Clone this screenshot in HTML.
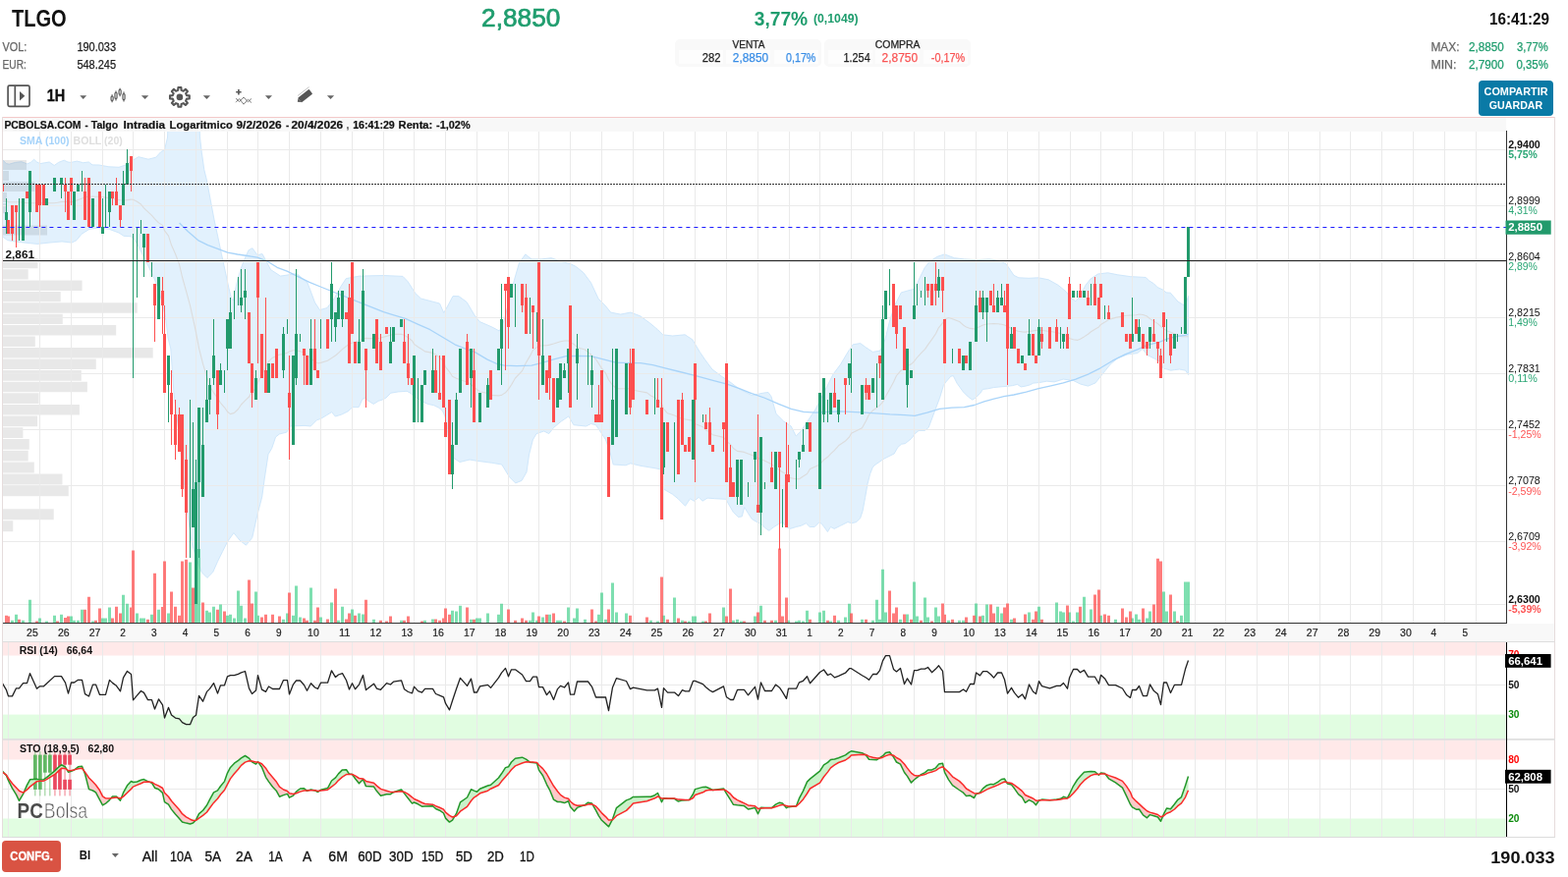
<!DOCTYPE html>
<html lang="es"><head><meta charset="utf-8"><title>TLGO - PCBolsa</title>
<style>
html,body{margin:0;padding:0;background:#fff;}
body{position:relative;width:1596px;height:893px;overflow:hidden;font-family:"Liberation Sans", Arial, sans-serif;}
.ov{position:absolute;left:0;top:0;display:block;}
.box{position:absolute;background:#f9f9f9;border-radius:5px;}
.cell{position:absolute;background:#fdfdfd;}
.btn{position:absolute;border-radius:4px;}
.share{background:#0a7aa6;}
.confg{background:#d9534f;background:#d95343;}
text{white-space:pre;}
</style></head>
<body>
<div id="header">
<div class="box" style="left:687px;top:40px;width:149px;height:28px"></div>
<div class="cell" style="left:691px;top:51px;width:45px;height:14px"></div>
<div class="cell" style="left:739px;top:51px;width:45px;height:14px"></div>
<div class="cell" style="left:788px;top:51px;width:45px;height:14px"></div>
<div class="box" style="left:839px;top:40px;width:149px;height:28px"></div>
<div class="cell" style="left:843px;top:51px;width:45px;height:14px"></div>
<div class="cell" style="left:891px;top:51px;width:45px;height:14px"></div>
<div class="cell" style="left:940px;top:51px;width:45px;height:14px"></div>
<div class="btn share" style="left:1505px;top:82px;width:76px;height:36px"></div>
<svg class="ov" width="1596" height="119" viewBox="0 0 1596 119">
<text x="11.9" y="26.6" font-family='"Liberation Sans", Arial, sans-serif' font-size="23.3" font-weight="bold" fill="#111" textLength="55.8" lengthAdjust="spacingAndGlyphs">TLGO</text>
<text x="2.5" y="51.7" font-family='"Liberation Sans", Arial, sans-serif' font-size="12" font-weight="normal" fill="#666" textLength="24.8" lengthAdjust="spacingAndGlyphs" stroke="#666" stroke-width="0.25">VOL:</text>
<text x="78.4" y="51.7" font-family='"Liberation Sans", Arial, sans-serif' font-size="12" font-weight="normal" fill="#222" textLength="39.7" lengthAdjust="spacingAndGlyphs" stroke="#222" stroke-width="0.25">190.033</text>
<text x="2.5" y="69.6" font-family='"Liberation Sans", Arial, sans-serif' font-size="12" font-weight="normal" fill="#666" textLength="24.3" lengthAdjust="spacingAndGlyphs" stroke="#666" stroke-width="0.25">EUR:</text>
<text x="78.4" y="69.6" font-family='"Liberation Sans", Arial, sans-serif' font-size="12" font-weight="normal" fill="#222" textLength="39.7" lengthAdjust="spacingAndGlyphs" stroke="#222" stroke-width="0.25">548.245</text>
<text x="490.1" y="26.9" font-family='"Liberation Sans", Arial, sans-serif' font-size="25.3" font-weight="normal" fill="#1f9d6e" textLength="80.2" lengthAdjust="spacingAndGlyphs" stroke="#1f9d6e" stroke-width="0.7">2,8850</text>
<text x="767.7" y="25.7" font-family='"Liberation Sans", Arial, sans-serif' font-size="20" font-weight="bold" fill="#1f9d6e" textLength="54.5" lengthAdjust="spacingAndGlyphs">3,77%</text>
<text x="827.9" y="23.2" font-family='"Liberation Sans", Arial, sans-serif' font-size="12.5" font-weight="bold" fill="#1f9d6e" textLength="45.8" lengthAdjust="spacingAndGlyphs">(0,1049)</text>
<text x="1516.0" y="24.9" font-family='"Liberation Sans", Arial, sans-serif' font-size="17" font-weight="bold" fill="#111" textLength="61.1" lengthAdjust="spacingAndGlyphs">16:41:29</text>
<text x="1456.4" y="51.7" font-family='"Liberation Sans", Arial, sans-serif' font-size="12" font-weight="normal" fill="#666" textLength="29.1" lengthAdjust="spacingAndGlyphs" stroke="#666" stroke-width="0.25">MAX:</text>
<text x="1495.1" y="51.7" font-family='"Liberation Sans", Arial, sans-serif' font-size="12" font-weight="normal" fill="#1f9d6e" textLength="35.7" lengthAdjust="spacingAndGlyphs" stroke="#1f9d6e" stroke-width="0.25">2,8850</text>
<text x="1543.9" y="51.7" font-family='"Liberation Sans", Arial, sans-serif' font-size="12" font-weight="normal" fill="#1f9d6e" textLength="31.9" lengthAdjust="spacingAndGlyphs" stroke="#1f9d6e" stroke-width="0.25">3,77%</text>
<text x="1456.4" y="69.9" font-family='"Liberation Sans", Arial, sans-serif' font-size="12" font-weight="normal" fill="#666" textLength="26.1" lengthAdjust="spacingAndGlyphs" stroke="#666" stroke-width="0.25">MIN:</text>
<text x="1495.1" y="69.9" font-family='"Liberation Sans", Arial, sans-serif' font-size="12" font-weight="normal" fill="#1f9d6e" textLength="35.7" lengthAdjust="spacingAndGlyphs" stroke="#1f9d6e" stroke-width="0.25">2,7900</text>
<text x="1543.4" y="69.9" font-family='"Liberation Sans", Arial, sans-serif' font-size="12" font-weight="normal" fill="#1f9d6e" textLength="32.4" lengthAdjust="spacingAndGlyphs" stroke="#1f9d6e" stroke-width="0.25">0,35%</text>
<text x="745.4" y="48.6" font-family='"Liberation Sans", Arial, sans-serif' font-size="10.5" font-weight="normal" fill="#222" textLength="33.0" lengthAdjust="spacingAndGlyphs" stroke="#222" stroke-width="0.25">VENTA</text>
<text x="714.8" y="62.7" font-family='"Liberation Sans", Arial, sans-serif' font-size="12" font-weight="normal" fill="#222" textLength="18.8" lengthAdjust="spacingAndGlyphs" stroke="#222" stroke-width="0.25">282</text>
<text x="745.8" y="62.7" font-family='"Liberation Sans", Arial, sans-serif' font-size="12" font-weight="normal" fill="#3a8ee6" textLength="36.3" lengthAdjust="spacingAndGlyphs" stroke="#3a8ee6" stroke-width="0.25">2,8850</text>
<text x="800.0" y="62.7" font-family='"Liberation Sans", Arial, sans-serif' font-size="12" font-weight="normal" fill="#3a8ee6" textLength="30.4" lengthAdjust="spacingAndGlyphs" stroke="#3a8ee6" stroke-width="0.25">0,17%</text>
<text x="890.8" y="48.6" font-family='"Liberation Sans", Arial, sans-serif' font-size="10.5" font-weight="normal" fill="#222" textLength="45.7" lengthAdjust="spacingAndGlyphs" stroke="#222" stroke-width="0.25">COMPRA</text>
<text x="858.5" y="62.7" font-family='"Liberation Sans", Arial, sans-serif' font-size="12" font-weight="normal" fill="#222" textLength="27.2" lengthAdjust="spacingAndGlyphs" stroke="#222" stroke-width="0.25">1.254</text>
<text x="897.6" y="62.7" font-family='"Liberation Sans", Arial, sans-serif' font-size="12" font-weight="normal" fill="#f95555" textLength="36.4" lengthAdjust="spacingAndGlyphs" stroke="#f95555" stroke-width="0.25">2,8750</text>
<text x="947.8" y="62.7" font-family='"Liberation Sans", Arial, sans-serif' font-size="12" font-weight="normal" fill="#f95555" textLength="34.4" lengthAdjust="spacingAndGlyphs" stroke="#f95555" stroke-width="0.25">-0,17%</text>
<text x="1510.6" y="96.8" font-family='"Liberation Sans", Arial, sans-serif' font-size="10.5" font-weight="bold" fill="#fff" textLength="64.9" lengthAdjust="spacingAndGlyphs">COMPARTIR</text>
<text x="1515.8" y="110.5" font-family='"Liberation Sans", Arial, sans-serif' font-size="10.5" font-weight="bold" fill="#fff" textLength="54.4" lengthAdjust="spacingAndGlyphs">GUARDAR</text>
<text x="47.8" y="102.5" font-family='"Liberation Sans", Arial, sans-serif' font-size="15.8" font-weight="bold" fill="#111" textLength="18.4" lengthAdjust="spacingAndGlyphs" stroke="#111" stroke-width="0.4">1H</text>
<path d="M81.3 97.2H88.1L84.7 100.9Z" fill="#666"/>
<path d="M143.9 97.2H151.2L147.6 100.9Z" fill="#666"/>
<path d="M206.8 97.2H214.0L210.4 100.9Z" fill="#666"/>
<path d="M269.9 97.2H277.0L273.4 100.9Z" fill="#666"/>
<path d="M332.9 97.2H340.1L336.5 100.9Z" fill="#666"/>
<rect x="8.1" y="87.2" width="21.9" height="21.2" rx="1.6" fill="none" stroke="#555" stroke-width="1.7"/>
<path d="M15.3 87.2V108.4" stroke="#555" stroke-width="1.7" fill="none"/>
<path d="M20.0 93.0L25.3 97.8L20.0 102.6Z" fill="#555"/>
<path d="M114.1 96.3V98.0M114.1 102.4V104.2" stroke="#555" stroke-width="1.1" fill="none"/><rect x="113.05" y="98.0" width="2.1" height="4.400000000000006" rx="1" ry="1" fill="none" stroke="#555" stroke-width="1.15"/>
<path d="M118.0 92.6V94.2M118.0 100.4V102.4" stroke="#555" stroke-width="1.1" fill="none"/><rect x="116.95" y="94.2" width="2.1" height="6.200000000000003" rx="1" ry="1" fill="none" stroke="#555" stroke-width="1.15"/>
<path d="M122.1 89.8V91.2M122.1 96.2V98.2" stroke="#555" stroke-width="1.1" fill="none"/><rect x="121.05" y="91.2" width="2.1" height="5.0" rx="1" ry="1" fill="none" stroke="#555" stroke-width="1.15"/>
<path d="M126.0 93.6V95.6M126.0 101.6V103.4" stroke="#555" stroke-width="1.1" fill="none"/><rect x="124.95" y="95.6" width="2.1" height="6.0" rx="1" ry="1" fill="none" stroke="#555" stroke-width="1.15"/>
<path d="M181.20 91.80L181.41 89.01L184.39 89.01L184.60 91.80L186.71 92.68L188.84 90.86L190.94 92.96L189.12 95.09L190.00 97.20L192.79 97.41L192.79 100.39L190.00 100.60L189.12 102.71L190.94 104.84L188.84 106.94L186.71 105.12L184.60 106.00L184.39 108.79L181.41 108.79L181.20 106.00L179.09 105.12L176.96 106.94L174.86 104.84L176.68 102.71L175.80 100.60L173.01 100.39L173.01 97.41L175.80 97.20L176.68 95.09L174.86 92.96L176.96 90.86L179.09 92.68Z" fill="#fff" stroke="#555" stroke-width="2.1" stroke-linejoin="round"/><circle cx="182.9" cy="98.9" r="3.3" fill="#555"/>
<path d="M242.9 91V96.4M240.2 93.7H245.6" stroke="#555" stroke-width="1.6" fill="none"/>
<path d="M240 100.2L243.6 103.6L248 99L252.4 103.8L256 100.4" stroke="#555" stroke-width="0.75" fill="none"/>
<path d="M240 104.2L243.6 100.6L248 106.2L252.4 101.2L256 104.6" stroke="#555" stroke-width="0.75" fill="none"/>
<g transform="rotate(-38 311.5 97)"><rect x="303.2" y="94" width="14.5" height="6" rx="0.8" fill="#555"/><path d="M303.2 94.5L300.5 97L303.2 99.5Z" fill="#555"/><path d="M304.5 92.2H319" stroke="#bbb" stroke-width="0.8"/></g>
</svg>
</div>
<svg id="chart" class="ov" style="top:0" width="1596" height="855" viewBox="0 0 1596 855">
<rect x="2" y="119" width="1581" height="734" fill="#fff"/>
<rect x="3" y="120" width="1530" height="14" fill="#f8f8f8"/>
<rect x="3" y="635" width="1580" height="18" fill="#f8f8f8"/>
<rect x="3" y="654" width="1530" height="13.5" fill="#ffe9e9"/>
<rect x="3" y="727.6" width="1530" height="24.9" fill="#e1fde1"/>
<rect x="3" y="753" width="1530" height="20.5" fill="#ffe9e9"/>
<rect x="3" y="833.5" width="1530" height="18.5" fill="#e1fde1"/>
<defs><clipPath id="plotclip"><rect x="3" y="134" width="1530" height="500"/></clipPath><clipPath id="rsiclip"><rect x="3" y="654" width="1530" height="98"/></clipPath><clipPath id="stoclip"><rect x="3" y="753" width="1530" height="99"/></clipPath></defs>
<g clip-path="url(#plotclip)">
<path d="M2.5 163.0L3.1 163.2L6.3 166.6L9.4 167.2L15.7 165.4L21.9 164.7L27.6 166.9L31.3 165.4L34.5 162.2L37.6 165.0L40.8 166.6L50.2 165.0L55.2 168.5L59.6 165.4L65.2 163.2L69.0 165.0L72.1 165.4L78.4 164.1L84.6 165.7L90.3 165.0L94.0 167.9L100.8 168.0L110.8 169.8L121.0 170.3L128.5 167.8L136.0 162.7L141.0 159.7L151.0 162.2L158.7 160.2L163.7 154.7L167.5 152.7L170.5 140.0L171.3 120.0L202.8 120.0L203.5 140.0L205.3 155.2L207.8 172.8L210.3 182.9L214.1 203.0L217.9 223.2L221.7 240.8L225.4 258.5L229.2 276.1L233.0 293.7L235.5 303.8L237.5 306.0L241.0 288.0L245.0 274.0L248.6 264.5L253.1 254.7L256.9 252.7L262.0 259.7L267.0 258.5L271.0 266.0L275.5 274.6L285.5 281.1L302.0 278.6L313.0 288.0L320.5 308.0L325.5 315.6L333.0 313.5L340.5 303.5L347.3 291.2L352.3 283.6L366.0 281.1L390.4 280.5L410.0 281.4L415.0 286.6L422.7 298.5L428.5 304.0L447.5 309.0L451.7 318.5L455.5 312.0L461.0 301.5L467.0 301.7L475.0 307.5L483.0 321.0L488.2 327.5L500.8 333.0L508.3 337.0L513.4 325.6L518.4 305.5L523.4 285.3L528.5 267.7L534.8 258.9L541.0 263.9L551.1 263.9L561.2 262.7L571.3 266.4L581.4 269.0L586.4 271.5L594.0 277.8L601.5 287.9L609.1 304.2L616.6 311.8L621.7 318.1L631.7 320.1L641.8 318.1L651.9 321.9L662.0 329.4L669.5 335.7L674.6 340.8L684.6 342.0L697.2 340.8L704.8 345.8L712.3 358.4L717.4 365.9L724.9 376.0L735.0 383.6L742.6 388.6L752.6 396.2L765.2 402.5L777.8 400.0L782.0 399.5L785.0 403.7L790.0 421.4L797.6 428.9L805.2 434.0L810.2 444.0L815.3 439.0L820.3 431.4L830.4 416.3L837.9 401.2L843.0 391.1L848.0 381.1L855.6 371.0L863.1 358.4L868.2 350.8L875.7 349.6L880.8 353.4L888.3 358.4L895.9 357.1L900.9 345.8L905.9 325.6L911.0 310.5L917.3 297.9L926.1 295.4L931.1 294.2L936.2 282.8L941.2 272.7L946.2 266.4L953.8 261.4L961.4 258.9L971.4 262.7L981.5 263.9L994.1 264.7L1006.7 263.9L1016.8 265.2L1024.3 269.0L1031.9 280.3L1036.9 282.8L1047.0 283.3L1057.1 282.8L1067.2 284.8L1077.2 290.4L1084.8 296.7L1089.8 303.0L1094.9 306.8L1099.9 300.5L1104.9 290.4L1110.0 284.1L1117.5 279.0L1127.6 277.8L1137.7 279.8L1150.3 281.6L1162.9 282.3L1166.3 282.5L1169.4 285.7L1174.4 288.8L1178.2 292.6L1183.8 295.1L1187.0 297.9L1191.3 298.2L1195.1 302.6L1198.9 307.0L1203.9 310.1L1206.5 311.0L1209.5 301.5L1209.5 381.6L1206.7 377.2L1200.5 376.0L1195.5 376.6L1191.7 377.2L1188.0 376.0L1184.2 375.3L1180.4 367.8L1175.4 365.3L1167.9 361.5L1162.9 355.2L1157.8 359.6L1147.8 360.9L1137.7 364.7L1130.1 371.0L1125.1 377.3L1120.0 383.6L1115.0 389.9L1107.5 393.1L1099.9 391.1L1092.3 387.4L1082.3 386.1L1073.1 388.9L1065.6 388.2L1058.1 389.5L1051.8 390.1L1048.0 392.0L1043.0 393.3L1039.2 393.9L1035.5 391.4L1030.5 392.6L1025.5 393.3L1017.9 393.9L1011.7 394.5L1005.4 395.8L1000.4 396.4L997.9 400.2L992.9 405.2L989.7 407.1L985.3 403.9L980.3 398.9L974.0 390.1L970.3 382.6L967.8 383.2L962.8 388.9L960.3 392.6L956.5 405.2L952.7 415.2L949.0 425.2L945.2 435.3L941.4 438.4L935.2 438.4L931.4 441.5L927.6 446.6L921.4 451.6L917.6 452.2L913.9 455.3L910.1 462.0L900.0 467.0L890.0 473.8L888.1 476.3L885.6 482.6L883.1 492.6L880.6 506.4L878.1 520.2L875.6 527.7L871.8 531.5L866.8 532.8L863.0 531.5L855.5 535.3L849.2 538.4L845.5 536.5L842.4 541.5L838.0 535.3L834.2 531.5L829.2 536.5L824.2 536.5L820.4 532.8L815.4 535.3L810.4 536.5L804.1 538.4L800.3 536.5L796.6 531.5L792.8 533.4L787.8 536.5L782.8 540.3L779.0 537.8L775.3 534.0L770.3 531.5L765.2 528.4L761.5 522.7L757.7 516.5L755.2 525.9L751.4 526.5L746.4 521.5L742.7 515.2L738.9 508.3L727.6 507.7L720.1 507.1L715.1 510.2L711.3 506.4L706.3 510.2L702.5 507.7L697.5 515.2L690.0 507.7L684.6 503.3L675.8 498.2L673.3 478.1L667.0 476.8L651.9 474.3L641.8 471.8L636.8 473.8L624.2 473.0L621.7 463.0L616.6 447.9L611.6 440.3L606.5 432.7L601.5 431.5L596.5 434.0L583.9 432.7L578.8 423.9L571.3 429.0L563.7 435.3L558.7 441.6L553.7 439.0L546.0 441.6L542.3 447.9L538.5 463.0L536.0 480.6L531.0 489.4L524.7 491.9L518.4 485.6L510.8 473.0L500.8 471.3L485.6 469.3L478.0 468.0L468.0 470.5L460.5 465.5L456.7 450.4L455.0 432.7L453.0 424.0L450.4 418.3L446.7 415.2L441.7 412.7L435.4 411.4L430.4 408.9L425.4 405.8L420.3 402.7L417.8 400.2L414.1 398.3L405.3 398.9L397.8 400.2L392.8 405.2L389.0 407.1L385.2 408.3L380.2 411.4L375.2 408.3L371.4 405.2L368.9 406.4L365.2 414.6L358.9 414.6L353.9 419.0L347.6 422.1L341.3 424.0L337.6 419.6L332.6 422.7L326.3 426.5L322.5 427.7L316.3 434.0L310.0 433.4L295.5 433.9L291.8 440.1L284.3 442.0L280.5 445.1L276.7 456.4L273.0 462.7L269.2 487.8L266.7 506.0L261.7 525.1L256.7 547.6L250.4 555.2L244.1 550.2L237.9 542.6L231.6 551.4L226.6 561.4L221.6 571.5L216.6 582.8L210.9 588.4L205.3 582.8L200.3 570.2L195.2 552.7L190.8 521.3L186.0 480.0L182.0 440.0L177.0 400.0L173.8 355.0L171.0 344.0L169.0 326.5L166.0 311.4L161.0 293.7L156.0 281.0L151.0 271.0L146.0 261.0L141.0 250.9L137.3 244.6L133.5 240.8L126.0 240.3L121.0 237.0L111.0 233.3L101.0 232.0L91.0 233.3L83.0 238.3L78.0 244.6L73.0 247.1L63.0 245.9L50.0 247.1L38.0 248.4L25.0 247.1L15.0 245.9L7.6 244.6L2.5 240.8Z" fill="#e2f1fd" stroke="#cfe7fb" stroke-width="1" stroke-linejoin="round"/>
</g>
<path d="M3 163.0h24.0V173.0H3ZM3 174.0h6.0V184.0H3ZM3 185.0h32.5V195.1H3ZM3 196.1h4.0V206.1H3ZM3 207.1h3.0V217.3H3ZM3 229.4h45.0V239.6H3ZM3 263.0h35.5V273.3H3ZM3 274.3h25.7V284.6H3ZM3 285.6h80.6V295.9H3ZM3 296.9h58.7V307.3H3ZM3 308.3h136.8V318.7H3ZM3 319.7h60.8V330.1H3ZM3 331.1h115.2V341.5H3ZM3 342.5h32.8V353.0H3ZM3 354.0h152.7V364.5H3ZM3 365.5h94.8V376.1H3ZM3 377.1h79.8V387.7H3ZM3 388.7h85.9V399.3H3ZM3 400.3h36.6V410.9H3ZM3 411.9h77.9V422.6H3ZM3 423.6h35.0V434.3H3ZM3 435.3h20.4V446.0H3ZM3 447.0h26.8V457.8H3ZM3 458.8h25.7V469.6H3ZM3 470.6h31.8V481.5H3ZM3 482.5h60.5V493.4H3ZM3 494.4h66.8V505.3H3ZM3 518.2h51.7V529.2H3ZM3 530.2h10.3V541.2H3Z" fill="#000" fill-opacity="0.09"/>
<path d="M8.5 654V852M40.5 134V634M40.5 654V852M72.5 134V634M72.5 654V852M104.5 134V634M104.5 654V852M135.5 134V634M135.5 654V852M167.5 134V634M167.5 654V852M199.5 134V634M199.5 654V852M231.5 134V634M231.5 654V852M262.5 134V634M262.5 654V852M294.5 134V634M294.5 654V852M326.5 134V634M326.5 654V852M358.5 134V634M358.5 654V852M390.5 134V634M390.5 654V852M421.5 134V634M421.5 654V852M453.5 134V634M453.5 654V852M485.5 134V634M485.5 654V852M517.5 134V634M517.5 654V852M548.5 134V634M548.5 654V852M580.5 134V634M580.5 654V852M612.5 134V634M612.5 654V852M644.5 134V634M644.5 654V852M675.5 134V634M675.5 654V852M707.5 134V634M707.5 654V852M739.5 134V634M739.5 654V852M771.5 134V634M771.5 654V852M803.5 134V634M803.5 654V852M834.5 134V634M834.5 654V852M866.5 134V634M866.5 654V852M898.5 134V634M898.5 654V852M930.5 134V634M930.5 654V852M961.5 134V634M961.5 654V852M993.5 134V634M993.5 654V852M1025.5 134V634M1025.5 654V852M1057.5 134V634M1057.5 654V852M1089.5 134V634M1089.5 654V852M1120.5 134V634M1120.5 654V852M1152.5 134V634M1152.5 654V852M1184.5 134V634M1184.5 654V852M1216.5 134V634M1216.5 654V852M1247.5 134V634M1247.5 654V852M1279.5 134V634M1279.5 654V852M1311.5 134V634M1311.5 654V852M1343.5 134V634M1343.5 654V852M1374.5 134V634M1374.5 654V852M1406.5 134V634M1406.5 654V852M1438.5 134V634M1438.5 654V852M1470.5 134V634M1470.5 654V852M1502.5 134V634M1502.5 654V852M3 152.5H1533M3 209.5H1533M3 266.5H1533M3 323.5H1533M3 380.5H1533M3 437.5H1533M3 494.5H1533M3 551.5H1533M3 615.5H1533M3 697.5H1533M3 803.5H1533" stroke="#eaeaea" stroke-width="1" fill="none" shape-rendering="crispEdges"/>
<g opacity="0.88"><rect x="35.4" y="765" width="0.9" height="45.4" fill="#4caf50" opacity="0.8"/><rect x="34.0" y="768.6" width="3.7" height="35.3" fill="#4caf50"/><rect x="40.4" y="765" width="0.9" height="45.4" fill="#4caf50" opacity="0.8"/><rect x="39.0" y="768.6" width="3.7" height="35.3" fill="#4caf50"/><rect x="45.4" y="765" width="0.9" height="45.4" fill="#4caf50" opacity="0.8"/><rect x="44.0" y="768.6" width="3.7" height="18.1" fill="#4caf50"/><rect x="50.4" y="765" width="0.9" height="45.4" fill="#4caf50" opacity="0.8"/><rect x="49.0" y="768.6" width="3.7" height="18.1" fill="#4caf50"/><rect x="55.5" y="765" width="0.9" height="45.4" fill="#e8304a" opacity="0.8"/><rect x="54.1" y="768.6" width="3.7" height="35.3" fill="#e8304a"/><rect x="60.5" y="765" width="0.9" height="45.4" fill="#e8304a" opacity="0.8"/><rect x="59.1" y="768.6" width="3.7" height="35.3" fill="#e8304a"/><rect x="65.6" y="765" width="0.9" height="45.4" fill="#e8304a" opacity="0.8"/><rect x="64.2" y="768.6" width="3.7" height="10.1" fill="#e8304a"/><rect x="64.2" y="793.8" width="3.7" height="10.1" fill="#e8304a"/><rect x="70.6" y="765" width="0.9" height="45.4" fill="#e8304a" opacity="0.8"/><rect x="69.2" y="768.6" width="3.7" height="10.1" fill="#e8304a"/><rect x="69.2" y="793.8" width="3.7" height="10.1" fill="#e8304a"/><text x="17.6" y="833.2" font-family='"Liberation Sans", Arial, sans-serif' font-size="22.3" font-weight="bold" fill="#333" textLength="26.2" lengthAdjust="spacingAndGlyphs">PC</text><text x="44.8" y="833.2" font-family='"Liberation Sans", Arial, sans-serif' font-size="22.3" font-weight="normal" fill="#444" textLength="44.4" lengthAdjust="spacingAndGlyphs" stroke="#fff" stroke-width="0.5">Bolsa</text></g>
<g clip-path="url(#plotclip)">
<path d="M11 631.7h3V634h-3ZM15 625.8h3V634h-3ZM22 631.7h3V634h-3ZM29 610.7h3V634h-3ZM39 629.6h3V634h-3ZM46 632.6h3V634h-3ZM54 626.7h3V634h-3ZM61 625.8h3V634h-3ZM71 627.6h3V634h-3ZM74 631.7h3V634h-3ZM78 631.7h3V634h-3ZM82 620.8h3V634h-3ZM93 632.6h3V634h-3ZM103 629.6h3V634h-3ZM106 629.6h3V634h-3ZM110 618.6h3V634h-3ZM124 605.7h3V634h-3ZM128 614.8h3V634h-3ZM138 624.6h3V634h-3ZM142 629.6h3V634h-3ZM145 629.6h3V634h-3ZM153 625.8h3V634h-3ZM160 620.8h3V634h-3ZM170 624.6h3V634h-3ZM192 572.6h3V634h-3ZM198 559.0h3V634h-3ZM201 559.0h3V634h-3ZM209 621.7h3V634h-3ZM212 623.6h3V634h-3ZM216 617.7h3V634h-3ZM223 615.4h3V634h-3ZM230 626.7h3V634h-3ZM233 625.8h3V634h-3ZM237 629.6h3V634h-3ZM241 601.6h3V634h-3ZM244 616.7h3V634h-3ZM248 629.6h3V634h-3ZM259 602.5h3V634h-3ZM261 626.7h3V634h-3ZM287 630.7h3V634h-3ZM291 624.6h3V634h-3ZM297 626.7h3V634h-3ZM300 596.6h3V634h-3ZM304 628.6h3V634h-3ZM315 598.5h3V634h-3ZM325 628.6h3V634h-3ZM336 613.6h3V634h-3ZM343 631.7h3V634h-3ZM347 617.7h3V634h-3ZM357 620.5h3V634h-3ZM364 624.6h3V634h-3ZM368 625.5h3V634h-3ZM379 630.7h3V634h-3ZM407 631.7h3V634h-3ZM431 631.7h3V634h-3ZM439 630.5h3V634h-3ZM459 621.7h3V634h-3ZM463 622.6h3V634h-3ZM467 616.7h3V634h-3ZM478 630.7h3V634h-3ZM484 629.6h3V634h-3ZM487 629.6h3V634h-3ZM495 624.6h3V634h-3ZM506 625.8h3V634h-3ZM509 614.8h3V634h-3ZM538 631.7h3V634h-3ZM541 623.6h3V634h-3ZM545 631.7h3V634h-3ZM551 628.6h3V634h-3ZM558 625.8h3V634h-3ZM566 631.7h3V634h-3ZM569 631.7h3V634h-3ZM577 618.6h3V634h-3ZM583 629.6h3V634h-3ZM586 619.6h3V634h-3ZM594 630.7h3V634h-3ZM608 625.8h3V634h-3ZM611 603.5h3V634h-3ZM615 630.7h3V634h-3ZM622 593.5h3V634h-3ZM626 623.6h3V634h-3ZM636 624.6h3V634h-3ZM661 631.7h3V634h-3ZM668 632.6h3V634h-3ZM674 626.7h3V634h-3ZM685 608.5h3V634h-3ZM693 631.7h3V634h-3ZM700 632.6h3V634h-3ZM704 627.6h3V634h-3ZM706 627.6h3V634h-3ZM714 632.6h3V634h-3ZM735 618.6h3V634h-3ZM745 631.7h3V634h-3ZM749 630.7h3V634h-3ZM753 632.6h3V634h-3ZM767 627.6h3V634h-3ZM773 616.7h3V634h-3ZM788 631.7h3V634h-3ZM801 631.7h3V634h-3ZM809 632.6h3V634h-3ZM812 631.7h3V634h-3ZM816 632.6h3V634h-3ZM820 621.7h3V634h-3ZM833 623.6h3V634h-3ZM837 621.7h3V634h-3ZM844 632.6h3V634h-3ZM852 631.7h3V634h-3ZM859 628.6h3V634h-3ZM863 614.8h3V634h-3ZM876 630.7h3V634h-3ZM887 631.7h3V634h-3ZM891 610.7h3V634h-3ZM894 630.7h3V634h-3ZM897 579.7h3V634h-3ZM900 623.6h3V634h-3ZM915 630.7h3V634h-3ZM922 625.5h3V634h-3ZM929 592.6h3V634h-3ZM932 627.6h3V634h-3ZM940 608.5h3V634h-3ZM943 628.6h3V634h-3ZM951 618.6h3V634h-3ZM954 627.6h3V634h-3ZM964 631.7h3V634h-3ZM975 631.7h3V634h-3ZM979 631.7h3V634h-3ZM992 614.6h3V634h-3ZM999 626.7h3V634h-3ZM1003 615.4h3V634h-3ZM1014 617.7h3V634h-3ZM1018 624.6h3V634h-3ZM1028 630.7h3V634h-3ZM1046 623.6h3V634h-3ZM1056 617.7h3V634h-3ZM1074 613.6h3V634h-3ZM1078 622.6h3V634h-3ZM1081 623.6h3V634h-3ZM1087 623.6h3V634h-3ZM1091 632.6h3V634h-3ZM1095 623.6h3V634h-3ZM1102 607.7h3V634h-3ZM1109 620.5h3V634h-3ZM1119 626.7h3V634h-3ZM1134 630.7h3V634h-3ZM1151 629.6h3V634h-3ZM1155 625.5h3V634h-3ZM1158 630.7h3V634h-3ZM1166 629.6h3V634h-3ZM1169 622.6h3V634h-3ZM1183 602.5h3V634h-3ZM1186 622.6h3V634h-3ZM1194 622.6h3V634h-3ZM1201 626.7h3V634h-3ZM1205 592.6h3V634h-3ZM1208 592.6h3V634h-3Z" fill="#2fcb7f" fill-opacity="0.62"/>
<path d="M5 626.7h3V634h-3ZM7 627.4h3V634h-3ZM18 630.7h3V634h-3ZM36 632.6h3V634h-3ZM57 632.6h3V634h-3ZM65 628.9h3V634h-3ZM68 627.6h3V634h-3ZM85 620.8h3V634h-3ZM89 607.7h3V634h-3ZM96 631.7h3V634h-3ZM100 619.6h3V634h-3ZM113 629.6h3V634h-3ZM117 617.7h3V634h-3ZM121 624.6h3V634h-3ZM132 618.6h3V634h-3ZM134 560.5h3V634h-3ZM149 630.7h3V634h-3ZM156 583.7h3V634h-3ZM164 617.9h3V634h-3ZM166 571.6h3V634h-3ZM173 602.5h3V634h-3ZM177 617.7h3V634h-3ZM181 626.7h3V634h-3ZM184 571.6h3V634h-3ZM188 569.7h3V634h-3ZM195 598.5h3V634h-3ZM205 613.6h3V634h-3ZM220 620.8h3V634h-3ZM227 622.6h3V634h-3ZM252 590.6h3V634h-3ZM255 614.6h3V634h-3ZM265 628.6h3V634h-3ZM269 625.8h3V634h-3ZM276 625.8h3V634h-3ZM283 627.6h3V634h-3ZM293 603.5h3V634h-3ZM308 629.6h3V634h-3ZM311 631.7h3V634h-3ZM319 631.7h3V634h-3ZM322 618.6h3V634h-3ZM332 630.5h3V634h-3ZM340 599.5h3V634h-3ZM351 630.5h3V634h-3ZM354 624.6h3V634h-3ZM360 626.7h3V634h-3ZM371 610.7h3V634h-3ZM386 631.7h3V634h-3ZM392 632.6h3V634h-3ZM396 627.6h3V634h-3ZM410 631.7h3V634h-3ZM414 627.6h3V634h-3ZM428 632.6h3V634h-3ZM442 630.5h3V634h-3ZM446 631.7h3V634h-3ZM450 629.6h3V634h-3ZM452 619.6h3V634h-3ZM456 625.8h3V634h-3ZM474 618.6h3V634h-3ZM481 630.7h3V634h-3ZM516 620.5h3V634h-3ZM523 631.7h3V634h-3ZM530 629.6h3V634h-3ZM534 631.7h3V634h-3ZM547 627.6h3V634h-3ZM555 625.8h3V634h-3ZM562 624.6h3V634h-3ZM573 632.6h3V634h-3ZM601 620.5h3V634h-3ZM605 632.6h3V634h-3ZM618 620.5h3V634h-3ZM640 626.7h3V634h-3ZM657 628.6h3V634h-3ZM672 587.6h3V634h-3ZM678 630.7h3V634h-3ZM689 629.6h3V634h-3ZM696 632.6h3V634h-3ZM717 632.6h3V634h-3ZM721 624.6h3V634h-3ZM738 627.6h3V634h-3ZM742 599.5h3V634h-3ZM756 632.6h3V634h-3ZM770 623.6h3V634h-3ZM777 631.7h3V634h-3ZM784 631.7h3V634h-3ZM792 558.4h3V634h-3ZM795 627.6h3V634h-3ZM799 608.5h3V634h-3ZM823 630.7h3V634h-3ZM841 631.7h3V634h-3ZM848 626.7h3V634h-3ZM865 624.6h3V634h-3ZM880 630.7h3V634h-3ZM904 601.6h3V634h-3ZM908 624.6h3V634h-3ZM911 618.6h3V634h-3ZM919 625.5h3V634h-3ZM926 630.7h3V634h-3ZM936 631.7h3V634h-3ZM947 632.6h3V634h-3ZM958 614.6h3V634h-3ZM960 625.8h3V634h-3ZM968 630.7h3V634h-3ZM982 628.6h3V634h-3ZM990 626.7h3V634h-3ZM996 627.6h3V634h-3ZM1007 615.4h3V634h-3ZM1010 624.6h3V634h-3ZM1021 618.6h3V634h-3ZM1024 614.6h3V634h-3ZM1031 629.6h3V634h-3ZM1042 625.5h3V634h-3ZM1050 630.7h3V634h-3ZM1053 622.6h3V634h-3ZM1059 630.7h3V634h-3ZM1085 616.4h3V634h-3ZM1098 617.7h3V634h-3ZM1113 605.4h3V634h-3ZM1117 600.6h3V634h-3ZM1123 625.5h3V634h-3ZM1127 626.7h3V634h-3ZM1141 619.6h3V634h-3ZM1145 628.6h3V634h-3ZM1149 622.6h3V634h-3ZM1162 619.6h3V634h-3ZM1173 615.4h3V634h-3ZM1177 568.8h3V634h-3ZM1180 571.6h3V634h-3ZM1190 605.4h3V634h-3ZM1197 632.6h3V634h-3Z" fill="#ff4a4a" fill-opacity="0.72"/>
</g>
<g clip-path="url(#plotclip)" fill="none">
<path d="M2.5 203.6L6.5 204.3L8.5 205.7L12.5 205.8L16.5 205.8L19.5 205.8L23.5 206.3L27.5 206.6L30.5 206.8L37.5 206.9L40.5 206.9L44.5 206.8L47.5 206.9L55.5 206.7L58.5 206.3L62.5 205.5L66.5 205.3L69.5 205.7L72.5 205.8L75.5 205.0L79.5 203.5L83.5 202.0L86.5 200.6L90.5 200.2L94.5 200.0L97.5 200.2L101.5 200.3L104.5 200.6L107.5 201.1L111.5 201.7L114.5 202.4L118.5 203.1L122.5 203.8L125.5 204.0L129.5 203.6L133.5 203.1L135.5 203.3L139.5 205.2L143.5 208.0L146.5 211.9L150.5 215.7L154.5 219.4L157.5 222.9L161.5 226.9L165.5 229.4L167.5 234.9L171.5 240.2L174.5 249.6L178.5 258.5L182.5 269.1L185.5 282.0L189.5 296.4L193.5 311.1L196.5 324.6L199.5 338.3L202.5 354.3L206.5 370.4L210.5 383.4L213.5 393.2L217.5 399.9L221.5 405.5L224.5 410.3L228.5 414.8L231.5 419.3L234.5 421.6L238.5 420.4L242.5 416.5L245.5 412.0L249.5 407.8L253.5 404.0L256.5 399.1L260.5 395.1L262.5 389.2L266.5 381.9L270.5 373.7L273.5 367.8L277.5 364.2L281.5 362.5L284.5 361.1L288.5 360.5L292.5 359.3L294.5 357.9L298.5 356.8L301.5 356.7L305.5 357.7L309.5 359.1L312.5 361.8L316.5 365.0L320.5 368.1L323.5 369.9L326.5 369.4L333.5 367.3L337.5 364.6L341.5 362.0L344.5 359.3L348.5 355.6L352.5 352.5L355.5 350.2L358.5 349.1L361.5 348.2L365.5 346.5L369.5 344.9L372.5 344.4L380.5 344.8L383.5 345.0L387.5 343.9L393.5 342.4L397.5 341.2L400.5 340.3L408.5 340.4L411.5 341.3L415.5 343.9L419.5 347.0L421.5 350.4L425.5 353.3L429.5 355.8L432.5 357.9L440.5 359.4L443.5 361.0L447.5 364.2L451.5 367.5L453.5 373.7L457.5 378.6L460.5 383.2L464.5 385.2L468.5 386.7L475.5 388.9L479.5 391.5L482.5 394.3L485.5 396.6L488.5 398.8L496.5 400.5L499.5 402.4L507.5 402.9L510.5 402.4L514.5 399.8L517.5 396.4L520.5 391.9L524.5 385.0L531.5 377.7L535.5 369.1L539.5 362.4L542.5 356.4L546.5 353.6L548.5 352.2L552.5 351.9L556.5 351.7L559.5 351.1L563.5 350.0L567.5 348.7L570.5 347.8L574.5 347.0L578.5 347.0L580.5 348.5L584.5 350.7L587.5 353.8L595.5 356.0L598.5 358.7L602.5 361.7L606.5 365.8L609.5 370.4L612.5 375.1L616.5 380.1L619.5 386.7L623.5 392.2L627.5 395.6L637.5 395.8L641.5 395.7L644.5 397.3L658.5 399.9L662.5 403.0L666.5 404.8L669.5 407.1L673.5 411.5L675.5 416.3L679.5 420.8L686.5 423.0L690.5 424.9L694.5 426.5L697.5 427.0L701.5 427.6L705.5 428.2L707.5 431.6L715.5 434.7L718.5 438.1L722.5 439.9L725.5 442.8L736.5 445.4L739.5 449.1L743.5 452.5L746.5 456.5L750.5 459.4L754.5 459.9L757.5 460.4L761.5 461.9L768.5 464.8L771.5 466.6L774.5 467.5L778.5 469.2L785.5 472.7L789.5 476.1L793.5 478.7L796.5 480.8L800.5 482.8L802.5 486.2L810.5 487.7L813.5 487.8L817.5 485.0L821.5 482.5L824.5 477.5L834.5 472.9L838.5 468.2L842.5 465.3L845.5 462.2L849.5 458.3L853.5 453.8L860.5 449.0L864.5 445.0L866.5 441.2L877.5 435.7L881.5 428.5L884.5 422.1L888.5 417.8L892.5 415.2L895.5 412.7L898.5 409.4L901.5 403.4L905.5 396.4L909.5 389.0L912.5 382.5L916.5 377.8L920.5 374.6L923.5 372.8L927.5 370.8L930.5 367.9L933.5 364.0L937.5 359.6L941.5 355.6L944.5 351.1L948.5 345.6L952.5 339.7L955.5 333.6L959.5 328.9L961.5 325.1L965.5 323.5L969.5 324.7L976.5 327.4L980.5 331.0L983.5 333.1L987.5 334.4L991.5 334.9L993.5 334.2L997.5 332.5L1000.5 331.0L1004.5 330.0L1008.5 329.7L1011.5 329.6L1015.5 329.8L1019.5 330.2L1022.5 331.0L1025.5 332.5L1029.5 334.4L1032.5 336.1L1036.5 337.3L1040.5 337.9L1043.5 338.1L1047.5 337.5L1051.5 336.9L1054.5 336.4L1057.5 336.3L1060.5 336.5L1068.5 337.4L1075.5 338.5L1079.5 339.6L1082.5 340.9L1086.5 342.4L1088.5 344.4L1092.5 345.8L1096.5 346.4L1099.5 345.2L1103.5 342.9L1107.5 340.2L1110.5 337.8L1114.5 335.2L1118.5 332.9L1120.5 330.4L1124.5 328.1L1128.5 325.5L1135.5 323.4L1142.5 322.0L1146.5 321.3L1150.5 321.1L1152.5 321.0L1156.5 320.7L1159.5 320.0L1163.5 320.5L1167.5 322.0L1170.5 324.6L1174.5 327.1L1178.5 329.6L1181.5 332.4L1184.5 334.8L1187.5 336.7L1191.5 338.2L1195.5 339.7L1198.5 341.3L1202.5 342.8L1206.5 342.8L1209.5 342.8" stroke="#dcdcdc" stroke-width="1.1" stroke-linejoin="round"/>
<path d="M182.6 227.0L191.4 235.8L201.5 244.6L211.6 249.6L221.7 253.4L231.7 257.2L241.8 259.0L251.9 260.5L262.0 262.2L272.0 266.0L282.1 272.3L292.2 276.1L302.3 281.1L314.9 287.4L327.5 292.5L340.0 297.5L352.6 302.5L365.2 307.6L377.8 312.6L390.4 317.7L400.0 320.6L412.6 324.4L425.2 330.2L437.8 335.7L450.4 343.3L463.0 350.8L475.6 355.9L483.1 358.4L495.7 365.9L505.8 370.5L513.4 372.2L525.9 372.7L541.1 372.2L551.1 369.7L563.7 365.9L576.3 362.7L588.9 362.4L601.5 362.7L614.1 365.9L626.7 369.2L639.3 369.7L651.9 369.7L664.5 371.7L677.1 374.8L689.7 378.0L707.3 382.3L727.5 387.9L740.0 391.1L752.6 395.7L765.2 400.7L777.8 405.0L792.6 411.3L805.2 416.3L817.8 419.3L830.4 420.1L843.0 419.3L855.6 418.8L880.8 420.1L905.9 421.9L921.1 422.6L931.1 423.4L943.7 420.1L956.3 416.3L968.9 415.1L981.5 414.6L991.6 412.5L1001.7 408.8L1011.7 406.2L1021.8 403.7L1031.9 402.0L1044.5 399.2L1057.1 395.7L1069.7 392.9L1082.3 389.9L1094.9 386.1L1107.5 381.1L1120.0 374.8L1132.6 367.2L1145.2 360.9L1157.8 355.9L1167.9 351.3L1180.0 348.3L1187.9 345.2L1194.2 343.3L1200.5 342.1L1206.7 341.4L1209.5 340.2" stroke="#a9d4f9" stroke-width="1.3" stroke-linejoin="round"/>
</g>
<g clip-path="url(#plotclip)" shape-rendering="crispEdges">
<path d="M6.5 202V238M19.5 202V245M23.5 202V245M30.5 174V231M47.5 202V209M55.5 181V195M62.5 181V202M75.5 195V224M79.5 188V195M83.5 174V195M94.5 202V231M104.5 202V238M107.5 188V231M111.5 195V231M125.5 174V209M129.5 152V188M135.5 238V385M139.5 231V303M143.5 224V238M146.5 238V282M154.5 267V282M161.5 282V325M171.5 362V430M193.5 407V568M196.5 430V537M199.5 468V615M202.5 415V568M206.5 415V506M210.5 377V430M213.5 385V422M217.5 325V392M224.5 370V392M228.5 377V400M231.5 325V377M234.5 303V355M238.5 296V325M242.5 282V311M245.5 274V318M249.5 274V325M260.5 377V407M273.5 370V400M288.5 333V385M292.5 325V340M298.5 362V453M301.5 274V392M305.5 340V348M316.5 325V392M326.5 325V355M337.5 267V348M341.5 318V348M344.5 296V325M348.5 296V333M365.5 325V370M369.5 274V348M380.5 340V355M397.5 333V370M400.5 333V348M408.5 325V333M421.5 362V430M425.5 385V430M429.5 392V430M432.5 377V392M440.5 355V400M460.5 430V498M464.5 400V453M468.5 355V400M479.5 355V415M488.5 400V430M496.5 385V415M507.5 355V377M510.5 289V392M520.5 289V303M524.5 289V333M539.5 303V340M546.5 318V348M552.5 325V392M567.5 385V415M570.5 370V407M574.5 370V385M578.5 355V400M587.5 340V407M598.5 355V392M602.5 362V415M623.5 355V453M627.5 355V445M637.5 370V422M666.5 385V422M675.5 430V483M686.5 430V491M705.5 407V468M715.5 422V430M750.5 468V514M754.5 468V514M761.5 491V506M768.5 460V491M774.5 445V545M778.5 491V498M789.5 460V498M796.5 498V537M810.5 468V498M813.5 460V476M817.5 437V460M821.5 430V437M834.5 400V498M838.5 385V430M842.5 407V430M845.5 400V422M853.5 407V430M864.5 370V392M866.5 355V400M877.5 392V422M888.5 385V400M892.5 370V415M898.5 311V407M901.5 296V325M905.5 274V311M923.5 355V415M927.5 377V385M930.5 267V325M933.5 289V311M937.5 296V303M941.5 282V311M955.5 274V303M969.5 355V370M980.5 362V377M987.5 348V377M993.5 296V348M1000.5 296V325M1004.5 303V348M1015.5 296V318M1019.5 289V311M1029.5 333V355M1040.5 362V370M1047.5 325V362M1057.5 325V362M1079.5 333V355M1082.5 340V355M1092.5 296V303M1096.5 296V303M1103.5 296V303M1110.5 289V311M1124.5 311V325M1152.5 303V348M1159.5 325V348M1170.5 333V355M1187.5 325V348M1195.5 340V355M1198.5 340V348M1202.5 333V340M1206.5 282V340M1209.5 231V282" stroke="#229a6c" stroke-width="1" fill="none"/>
<path d="M2.5 188V195M8.5 224V238M12.5 209V245M16.5 209V252M27.5 195V202M37.5 188V216M40.5 188V231M44.5 188V209M66.5 181V216M69.5 195V224M72.5 181V209M86.5 181V224M90.5 181V231M101.5 195V231M114.5 195V209M118.5 181V209M122.5 209V231M133.5 159V195M150.5 238V267M157.5 289V348M165.5 282V340M167.5 311V400M174.5 377V453M178.5 407V468M182.5 415V460M185.5 422V506M189.5 453V568M221.5 377V437M253.5 318V370M256.5 370V415M262.5 267V370M266.5 340V385M270.5 303V400M277.5 370V385M281.5 355V385M294.5 362V468M309.5 355V392M312.5 362V392M320.5 325V377M323.5 377V385M333.5 325V355M352.5 318V325M355.5 289V370M358.5 267V340M361.5 348V370M372.5 355V415M383.5 325V370M387.5 340V377M393.5 333V340M411.5 325V370M415.5 340V392M419.5 385V392M443.5 362V400M447.5 362V407M451.5 362V415M453.5 415V445M457.5 407V483M475.5 340V392M482.5 355V430M499.5 377V407M514.5 289V377M517.5 282V355M531.5 289V318M535.5 289V340M542.5 311V355M548.5 267V407M556.5 377V400M559.5 362V407M563.5 385V430M580.5 311V415M606.5 422V430M609.5 392V430M612.5 377V430M619.5 445V506M641.5 355V422M644.5 355V407M658.5 407V422M669.5 385V415M673.5 385V529M679.5 430V460M690.5 407V483M694.5 400V453M697.5 453V460M701.5 445V460M707.5 370V491M718.5 422V437M722.5 415V453M725.5 453V460M736.5 430V460M739.5 370V491M743.5 453V506M746.5 491V506M771.5 422V522M785.5 460V491M793.5 460V560M800.5 430V537M802.5 453V491M824.5 430V460M849.5 385V415M860.5 385V422M881.5 385V407M884.5 392V407M895.5 362V385M909.5 289V333M912.5 311V355M916.5 311V325M920.5 333V377M944.5 289V303M948.5 289V311M952.5 267V311M959.5 282V318M961.5 325V370M976.5 355V370M983.5 362V370M997.5 296V318M1008.5 296V311M1011.5 289V318M1022.5 296V318M1025.5 289V392M1032.5 333V355M1036.5 355V370M1043.5 370V377M1051.5 340V362M1054.5 362V370M1060.5 333V355M1068.5 333V355M1075.5 325V348M1086.5 333V355M1088.5 282V325M1099.5 289V303M1107.5 296V311M1114.5 282V311M1118.5 303V325M1120.5 289V303M1128.5 311V325M1142.5 318V333M1146.5 340V348M1150.5 340V355M1156.5 325V340M1163.5 340V355M1167.5 348V362M1174.5 325V348M1178.5 348V370M1181.5 355V385M1184.5 318V370M1191.5 340V370" stroke="#fd4f4f" stroke-width="1" fill="none"/>
<path d="M5 216h3V224h-3ZM22 202h3V245h-3ZM29 174h3V216h-3ZM46 202h3V209h-3ZM54 181h3V195h-3ZM61 181h3V188h-3ZM74 195h3V224h-3ZM78 188h3V195h-3ZM93 202h3V231h-3ZM103 231h3V238h-3ZM110 195h3V216h-3ZM124 188h3V209h-3ZM128 166h3V188h-3ZM145 238h3V252h-3ZM160 282h3V325h-3ZM170 362h3V392h-3ZM195 498h3V537h-3ZM198 491h3V615h-3ZM201 415h3V491h-3ZM205 453h3V506h-3ZM209 407h3V430h-3ZM212 392h3V407h-3ZM216 362h3V385h-3ZM223 377h3V392h-3ZM230 325h3V355h-3ZM233 318h3V355h-3ZM244 303h3V311h-3ZM248 296h3V303h-3ZM259 385h3V407h-3ZM272 370h3V400h-3ZM287 340h3V377h-3ZM297 362h3V453h-3ZM300 340h3V385h-3ZM315 355h3V392h-3ZM336 289h3V325h-3ZM340 318h3V333h-3ZM343 303h3V325h-3ZM347 296h3V325h-3ZM364 348h3V370h-3ZM368 296h3V348h-3ZM379 340h3V355h-3ZM396 348h3V370h-3ZM399 333h3V348h-3ZM407 325h3V333h-3ZM420 362h3V430h-3ZM428 392h3V430h-3ZM431 377h3V392h-3ZM439 377h3V400h-3ZM459 453h3V483h-3ZM463 407h3V453h-3ZM467 355h3V400h-3ZM478 355h3V385h-3ZM487 400h3V430h-3ZM495 392h3V415h-3ZM506 355h3V377h-3ZM509 325h3V355h-3ZM519 289h3V303h-3ZM551 362h3V392h-3ZM566 385h3V415h-3ZM569 370h3V407h-3ZM573 377h3V385h-3ZM577 355h3V370h-3ZM586 355h3V370h-3ZM601 377h3V392h-3ZM622 407h3V453h-3ZM626 355h3V445h-3ZM636 370h3V422h-3ZM674 430h3V476h-3ZM704 407h3V468h-3ZM749 468h3V506h-3ZM753 468h3V514h-3ZM767 460h3V468h-3ZM773 445h3V522h-3ZM788 460h3V498h-3ZM812 460h3V468h-3ZM816 453h3V460h-3ZM820 430h3V437h-3ZM833 400h3V498h-3ZM837 385h3V422h-3ZM844 400h3V422h-3ZM852 407h3V422h-3ZM863 370h3V385h-3ZM876 392h3V422h-3ZM887 385h3V400h-3ZM897 325h3V407h-3ZM900 296h3V325h-3ZM922 355h3V392h-3ZM926 377h3V385h-3ZM929 311h3V325h-3ZM954 282h3V296h-3ZM979 362h3V377h-3ZM986 348h3V377h-3ZM992 311h3V348h-3ZM999 303h3V318h-3ZM1003 303h3V318h-3ZM1014 303h3V318h-3ZM1018 303h3V311h-3ZM1028 340h3V355h-3ZM1039 362h3V370h-3ZM1046 340h3V362h-3ZM1056 333h3V362h-3ZM1081 340h3V348h-3ZM1091 296h3V303h-3ZM1102 296h3V303h-3ZM1151 340h3V348h-3ZM1158 333h3V348h-3ZM1169 333h3V348h-3ZM1194 340h3V355h-3ZM1205 282h3V340h-3ZM1208 231h3V282h-3Z" fill="#229a6c"/>
<path d="M1 188h3V195h-3ZM7 224h3V238h-3ZM11 209h3V238h-3ZM15 209h3V216h-3ZM26 195h3V202h-3ZM36 188h3V216h-3ZM39 188h3V209h-3ZM43 188h3V209h-3ZM65 188h3V195h-3ZM68 195h3V224h-3ZM71 181h3V195h-3ZM85 195h3V224h-3ZM89 181h3V231h-3ZM100 195h3V231h-3ZM113 195h3V202h-3ZM117 195h3V209h-3ZM121 209h3V224h-3ZM132 159h3V174h-3ZM149 238h3V267h-3ZM156 289h3V311h-3ZM164 296h3V311h-3ZM166 340h3V400h-3ZM173 400h3V422h-3ZM177 422h3V453h-3ZM181 422h3V460h-3ZM184 422h3V498h-3ZM188 468h3V522h-3ZM220 377h3V422h-3ZM252 318h3V370h-3ZM255 370h3V400h-3ZM261 267h3V303h-3ZM265 340h3V385h-3ZM269 377h3V400h-3ZM276 370h3V385h-3ZM280 355h3V385h-3ZM293 400h3V415h-3ZM308 355h3V362h-3ZM311 362h3V392h-3ZM319 355h3V377h-3ZM322 377h3V385h-3ZM332 325h3V355h-3ZM351 318h3V325h-3ZM354 303h3V370h-3ZM357 267h3V340h-3ZM360 348h3V370h-3ZM371 355h3V377h-3ZM382 325h3V370h-3ZM386 348h3V377h-3ZM392 333h3V340h-3ZM410 348h3V370h-3ZM414 370h3V385h-3ZM418 385h3V392h-3ZM442 377h3V400h-3ZM446 400h3V407h-3ZM450 362h3V415h-3ZM452 430h3V445h-3ZM456 407h3V483h-3ZM474 348h3V392h-3ZM481 377h3V430h-3ZM498 377h3V407h-3ZM513 289h3V296h-3ZM516 282h3V333h-3ZM530 289h3V311h-3ZM534 303h3V340h-3ZM541 311h3V318h-3ZM547 267h3V362h-3ZM555 377h3V400h-3ZM558 362h3V385h-3ZM562 385h3V430h-3ZM579 311h3V415h-3ZM605 422h3V430h-3ZM608 422h3V430h-3ZM611 377h3V430h-3ZM618 445h3V506h-3ZM640 370h3V415h-3ZM643 355h3V407h-3ZM657 407h3V422h-3ZM668 407h3V415h-3ZM672 415h3V529h-3ZM678 430h3V460h-3ZM689 407h3V483h-3ZM693 407h3V453h-3ZM696 453h3V460h-3ZM700 445h3V460h-3ZM706 370h3V407h-3ZM717 430h3V437h-3ZM721 430h3V453h-3ZM724 453h3V460h-3ZM735 430h3V437h-3ZM738 370h3V491h-3ZM742 476h3V506h-3ZM745 491h3V506h-3ZM770 514h3V522h-3ZM784 476h3V491h-3ZM792 460h3V476h-3ZM799 483h3V537h-3ZM801 483h3V491h-3ZM823 430h3V460h-3ZM848 400h3V415h-3ZM859 385h3V392h-3ZM880 392h3V400h-3ZM883 392h3V407h-3ZM894 362h3V370h-3ZM908 289h3V333h-3ZM911 311h3V340h-3ZM915 311h3V325h-3ZM919 333h3V377h-3ZM943 289h3V296h-3ZM947 289h3V311h-3ZM951 289h3V296h-3ZM958 282h3V296h-3ZM960 325h3V370h-3ZM975 355h3V370h-3ZM982 362h3V370h-3ZM996 303h3V318h-3ZM1007 296h3V311h-3ZM1010 311h3V318h-3ZM1021 311h3V318h-3ZM1024 289h3V355h-3ZM1031 333h3V355h-3ZM1035 355h3V370h-3ZM1042 370h3V377h-3ZM1050 340h3V362h-3ZM1053 362h3V370h-3ZM1059 340h3V348h-3ZM1067 333h3V355h-3ZM1074 333h3V348h-3ZM1085 340h3V355h-3ZM1087 289h3V325h-3ZM1098 296h3V303h-3ZM1106 303h3V311h-3ZM1113 289h3V311h-3ZM1117 303h3V325h-3ZM1119 289h3V303h-3ZM1127 318h3V325h-3ZM1141 318h3V333h-3ZM1145 340h3V348h-3ZM1149 340h3V355h-3ZM1155 325h3V340h-3ZM1162 340h3V355h-3ZM1166 348h3V355h-3ZM1173 340h3V348h-3ZM1177 348h3V355h-3ZM1180 362h3V385h-3ZM1183 318h3V333h-3ZM1190 340h3V362h-3Z" fill="#fd4f4f"/>
</g>
<path clip-path="url(#rsiclip)" d="M2.5 695.8L6.5 702.7L8.5 708.9L12.5 708.9L16.5 700.8L19.5 700.8L23.5 695.6L27.5 695.6L30.5 685.7L37.5 701.2L40.5 698.8L44.5 698.8L47.5 696.1L55.5 688.6L58.5 688.6L62.5 688.6L66.5 695.1L69.5 706.2L72.5 695.0L75.5 695.0L79.5 692.3L83.5 692.3L86.5 706.6L90.5 709.0L94.5 697.1L97.5 697.1L101.5 707.4L104.5 707.4L107.5 707.4L111.5 692.4L114.5 695.4L118.5 698.3L122.5 703.9L125.5 690.1L129.5 683.4L133.5 686.5L135.5 712.8L139.5 708.1L143.5 703.5L146.5 705.4L150.5 712.6L154.5 712.6L157.5 722.0L161.5 711.9L165.5 717.9L167.5 731.0L171.5 720.4L174.5 727.9L178.5 731.1L182.5 731.9L185.5 735.6L189.5 737.7L193.5 737.7L196.5 730.6L199.5 728.3L202.5 708.3L206.5 714.2L210.5 704.4L213.5 701.4L217.5 695.6L221.5 706.1L224.5 697.8L228.5 697.8L231.5 688.8L234.5 687.6L238.5 687.6L242.5 686.3L245.5 684.9L249.5 683.5L253.5 700.9L256.5 706.5L260.5 703.1L262.5 687.6L266.5 702.1L270.5 704.4L273.5 699.0L277.5 701.5L281.5 701.5L284.5 701.5L288.5 692.6L292.5 692.6L294.5 706.9L298.5 696.8L301.5 693.0L305.5 693.0L309.5 697.5L312.5 703.2L316.5 695.7L320.5 700.0L323.5 701.4L326.5 695.2L333.5 695.2L337.5 682.8L341.5 689.6L344.5 687.0L348.5 685.6L352.5 692.7L355.5 702.0L358.5 695.8L361.5 701.7L365.5 697.1L369.5 687.5L372.5 702.6L380.5 696.2L383.5 701.1L387.5 702.3L393.5 695.6L397.5 697.0L400.5 694.2L408.5 692.8L411.5 701.7L415.5 704.5L419.5 705.8L421.5 699.1L425.5 703.6L429.5 705.1L432.5 701.4L440.5 701.4L443.5 706.5L447.5 708.1L451.5 709.8L453.5 716.2L457.5 722.9L460.5 713.5L464.5 701.5L468.5 690.3L475.5 698.4L479.5 691.1L482.5 705.0L485.5 705.0L488.5 698.9L496.5 697.4L499.5 700.4L507.5 690.2L510.5 685.1L514.5 680.4L517.5 688.8L520.5 681.8L524.5 681.8L531.5 687.0L535.5 693.6L539.5 693.6L542.5 689.1L546.5 689.1L548.5 699.6L552.5 699.6L556.5 707.6L559.5 703.8L563.5 712.4L567.5 701.6L570.5 698.4L574.5 700.0L578.5 694.9L580.5 707.2L584.5 707.2L587.5 694.0L595.5 694.0L598.5 694.0L602.5 699.3L606.5 710.0L609.5 710.0L612.5 710.0L616.5 710.0L619.5 723.6L623.5 699.9L627.5 690.6L637.5 693.5L641.5 701.6L644.5 700.2L658.5 702.9L662.5 702.9L666.5 702.9L669.5 701.1L673.5 720.4L675.5 700.6L679.5 705.1L686.5 705.1L690.5 708.6L694.5 702.6L697.5 703.9L701.5 703.9L705.5 693.4L707.5 693.4L715.5 696.6L718.5 699.8L722.5 703.0L725.5 704.6L736.5 698.9L739.5 709.8L743.5 712.5L746.5 712.5L750.5 702.4L754.5 702.4L757.5 702.4L761.5 707.8L768.5 699.3L771.5 712.2L774.5 694.9L778.5 703.5L785.5 703.5L789.5 697.1L793.5 700.2L796.5 704.6L800.5 711.4L802.5 701.2L810.5 701.2L813.5 694.8L817.5 693.3L821.5 688.7L824.5 695.8L834.5 684.5L838.5 682.0L842.5 687.5L845.5 686.1L849.5 689.9L853.5 688.3L860.5 685.2L864.5 680.7L866.5 680.7L877.5 687.7L881.5 690.0L884.5 692.3L888.5 686.5L892.5 686.5L895.5 682.6L898.5 672.9L901.5 667.6L905.5 667.6L909.5 681.4L912.5 683.9L916.5 680.4L920.5 696.5L923.5 690.9L927.5 697.0L930.5 682.6L933.5 682.6L937.5 681.1L941.5 681.1L944.5 679.5L948.5 684.7L952.5 681.1L955.5 677.8L959.5 683.3L961.5 704.6L965.5 704.6L969.5 704.6L976.5 704.6L980.5 702.0L983.5 704.3L987.5 696.5L991.5 696.5L993.5 685.0L997.5 687.9L1000.5 683.6L1004.5 683.6L1008.5 686.8L1011.5 690.1L1015.5 685.0L1019.5 685.0L1022.5 692.0L1025.5 706.2L1029.5 700.3L1032.5 705.4L1036.5 710.2L1040.5 706.9L1043.5 711.8L1047.5 697.0L1051.5 704.3L1054.5 706.5L1057.5 693.7L1060.5 698.6L1068.5 700.9L1075.5 698.3L1079.5 698.3L1082.5 695.5L1086.5 701.2L1088.5 690.3L1092.5 681.5L1096.5 681.5L1099.5 684.8L1103.5 682.4L1107.5 689.2L1110.5 689.2L1114.5 689.2L1118.5 696.3L1120.5 687.3L1124.5 690.9L1128.5 697.6L1135.5 697.6L1142.5 701.0L1146.5 707.4L1150.5 710.4L1152.5 702.5L1156.5 702.5L1159.5 698.5L1163.5 708.7L1167.5 708.7L1170.5 696.8L1174.5 703.6L1178.5 706.8L1181.5 717.7L1184.5 695.0L1187.5 695.0L1191.5 705.5L1195.5 697.3L1198.5 697.3L1202.5 697.3L1206.5 681.3L1209.5 672.5" stroke="#222" stroke-width="1.3" fill="none" stroke-linejoin="round"/>
<g clip-path="url(#stoclip)">
<path d="M2.5 785.2L6.5 789.7L6.5 789.1L2.5 786.2ZM23.5 808.6L27.5 799.4L27.5 804.1L23.5 807.1ZM27.5 799.4L30.5 793.8L30.5 801.1L27.5 804.1ZM30.5 793.8L37.5 793.3L37.5 795.7L30.5 801.1ZM37.5 793.3L40.5 794.1L40.5 795.3L37.5 795.7ZM40.5 794.1L44.5 793.7L44.5 795.2L40.5 795.3ZM44.5 793.7L47.5 791.6L47.5 793.7L44.5 795.2ZM47.5 791.6L55.5 785.1L55.5 788.7L47.5 793.7ZM55.5 785.1L58.5 782.1L58.5 786.1L55.5 788.7ZM58.5 782.1L62.5 778.7L62.5 782.2L58.5 786.1ZM62.5 778.7L66.5 781.0L66.5 782.5L62.5 782.2ZM66.5 781.0L69.5 786.2L69.5 784.7L66.5 782.5ZM75.5 784.0L79.5 780.8L79.5 782.7L75.5 783.9ZM79.5 780.8L83.5 780.2L83.5 782.2L79.5 782.7ZM83.5 780.2L86.5 787.9L86.5 786.1L83.5 782.2ZM114.5 810.9L118.5 811.1L118.5 811.9L114.5 812.5ZM122.5 815.1L125.5 807.2L125.5 811.1L122.5 813.0ZM125.5 807.2L129.5 799.8L129.5 807.3L125.5 811.1ZM129.5 799.8L133.5 795.5L133.5 803.4L129.5 807.3ZM133.5 795.5L135.5 796.5L135.5 801.1L133.5 803.4ZM135.5 796.5L139.5 796.0L139.5 799.4L135.5 801.1ZM139.5 796.0L143.5 794.3L143.5 797.7L139.5 799.4ZM143.5 794.3L146.5 793.6L146.5 796.3L143.5 797.7ZM146.5 793.6L150.5 795.6L150.5 796.1L146.5 796.3ZM199.5 834.9L202.5 828.6L202.5 833.1L199.5 835.3ZM202.5 828.6L206.5 825.2L206.5 830.4L202.5 833.1ZM206.5 825.2L210.5 820.0L210.5 827.0L206.5 830.4ZM210.5 820.0L213.5 814.1L213.5 822.7L210.5 827.0ZM213.5 814.1L217.5 806.9L217.5 817.4L213.5 822.7ZM217.5 806.9L221.5 804.9L221.5 813.2L217.5 817.4ZM221.5 804.9L224.5 800.5L224.5 809.0L221.5 813.2ZM224.5 800.5L228.5 795.6L228.5 804.5L224.5 809.0ZM228.5 795.6L231.5 787.1L231.5 798.7L228.5 804.5ZM231.5 787.1L234.5 781.4L234.5 792.9L231.5 798.7ZM234.5 781.4L238.5 777.2L238.5 787.7L234.5 792.9ZM238.5 777.2L242.5 774.3L242.5 783.2L238.5 787.7ZM242.5 774.3L245.5 771.9L245.5 779.4L242.5 783.2ZM245.5 771.9L249.5 769.5L249.5 776.1L245.5 779.4ZM249.5 769.5L253.5 772.1L253.5 774.8L249.5 776.1ZM253.5 772.1L256.5 775.9L256.5 775.1L253.5 774.8ZM298.5 810.1L301.5 806.1L301.5 807.7L298.5 808.5ZM301.5 806.1L305.5 803.0L305.5 806.1L301.5 807.7ZM305.5 803.0L309.5 802.7L309.5 805.0L305.5 806.1ZM309.5 802.7L312.5 805.4L312.5 805.1L309.5 805.0ZM312.5 805.4L316.5 803.9L316.5 804.7L312.5 805.1ZM316.5 803.9L320.5 804.9L320.5 804.8L316.5 804.7ZM326.5 804.3L333.5 802.6L333.5 804.2L326.5 805.0ZM333.5 802.6L337.5 795.0L337.5 801.1L333.5 804.2ZM337.5 795.0L341.5 791.9L341.5 798.0L337.5 801.1ZM341.5 791.9L344.5 787.9L344.5 794.6L341.5 798.0ZM344.5 787.9L348.5 783.9L348.5 791.1L344.5 794.6ZM348.5 783.9L352.5 783.8L352.5 788.6L348.5 791.1ZM352.5 783.8L355.5 788.1L355.5 788.4L352.5 788.6ZM355.5 788.1L358.5 788.5L358.5 788.5L355.5 788.4ZM400.5 806.7L408.5 804.0L408.5 805.7L400.5 806.5ZM408.5 804.0L411.5 807.9L411.5 806.4L408.5 805.7ZM464.5 828.4L468.5 816.9L468.5 826.2L464.5 830.8ZM468.5 816.9L475.5 812.0L475.5 821.4L468.5 826.2ZM475.5 812.0L479.5 803.8L479.5 815.5L475.5 821.4ZM479.5 803.8L482.5 805.1L482.5 812.1L479.5 815.5ZM482.5 805.1L485.5 806.2L485.5 810.1L482.5 812.1ZM485.5 806.2L488.5 803.3L488.5 807.8L485.5 810.1ZM488.5 803.3L496.5 800.0L496.5 805.2L488.5 807.8ZM496.5 800.0L499.5 799.2L499.5 803.2L496.5 805.2ZM499.5 799.2L507.5 792.0L507.5 799.5L499.5 803.2ZM507.5 792.0L510.5 787.8L510.5 795.6L507.5 799.5ZM510.5 787.8L514.5 781.6L514.5 790.9L510.5 795.6ZM514.5 781.6L517.5 780.8L517.5 787.6L514.5 790.9ZM517.5 780.8L520.5 776.0L520.5 783.7L517.5 787.6ZM520.5 776.0L524.5 772.2L524.5 779.9L520.5 783.7ZM524.5 772.2L531.5 771.2L531.5 777.0L524.5 779.9ZM531.5 771.2L535.5 773.2L535.5 775.7L531.5 777.0ZM535.5 773.2L539.5 776.2L539.5 775.9L535.5 775.7ZM595.5 819.5L598.5 817.2L598.5 819.1L595.5 820.1ZM598.5 817.2L602.5 818.1L602.5 818.8L598.5 819.1ZM623.5 834.1L627.5 822.6L627.5 830.7L623.5 834.7ZM627.5 822.6L637.5 814.9L637.5 825.4L627.5 830.7ZM637.5 814.9L641.5 813.4L641.5 821.4L637.5 825.4ZM641.5 813.4L644.5 811.4L644.5 818.1L641.5 821.4ZM644.5 811.4L658.5 811.3L658.5 815.8L644.5 818.1ZM658.5 811.3L662.5 811.3L662.5 814.3L658.5 815.8ZM662.5 811.3L666.5 809.7L666.5 812.8L662.5 814.3ZM666.5 809.7L669.5 807.5L669.5 811.0L666.5 812.8ZM701.5 814.6L705.5 808.5L705.5 812.5L701.5 814.5ZM705.5 808.5L707.5 803.6L707.5 809.5L705.5 812.5ZM707.5 803.6L715.5 801.4L715.5 806.8L707.5 809.5ZM715.5 801.4L718.5 801.3L718.5 805.0L715.5 806.8ZM718.5 801.3L722.5 803.0L722.5 804.3L718.5 805.0ZM722.5 803.0L725.5 804.5L725.5 804.4L722.5 804.3ZM725.5 804.5L736.5 802.9L736.5 803.9L725.5 804.4ZM774.5 822.3L778.5 822.4L778.5 822.8L774.5 823.0ZM778.5 822.4L785.5 822.5L785.5 822.7L778.5 822.8ZM785.5 822.5L789.5 819.2L789.5 821.5L785.5 822.7ZM789.5 819.2L793.5 817.2L793.5 820.1L789.5 821.5ZM793.5 817.2L796.5 818.0L796.5 819.4L793.5 820.1ZM810.5 820.8L813.5 812.9L813.5 818.2L810.5 820.9ZM813.5 812.9L817.5 805.4L817.5 813.9L813.5 818.2ZM817.5 805.4L821.5 796.1L821.5 808.0L817.5 813.9ZM821.5 796.1L824.5 793.1L824.5 803.0L821.5 808.0ZM824.5 793.1L834.5 785.2L834.5 797.1L824.5 803.0ZM834.5 785.2L838.5 778.8L838.5 791.0L834.5 797.1ZM838.5 778.8L842.5 776.4L842.5 786.1L838.5 791.0ZM842.5 776.4L845.5 773.5L845.5 781.9L842.5 786.1ZM845.5 773.5L849.5 773.0L849.5 778.9L845.5 781.9ZM849.5 773.0L853.5 771.7L853.5 776.5L849.5 778.9ZM853.5 771.7L860.5 768.9L860.5 774.0L853.5 776.5ZM860.5 768.9L864.5 765.8L864.5 771.2L860.5 774.0ZM864.5 765.8L866.5 764.8L866.5 769.1L864.5 771.2ZM866.5 764.8L877.5 766.7L877.5 768.3L866.5 769.1ZM877.5 766.7L881.5 769.0L881.5 768.5L877.5 768.3ZM895.5 771.7L898.5 769.7L898.5 771.2L895.5 772.0ZM898.5 769.7L901.5 766.4L901.5 769.6L898.5 771.2ZM901.5 766.4L905.5 765.8L905.5 768.3L901.5 769.6ZM905.5 765.8L909.5 770.9L909.5 769.2L905.5 768.3ZM937.5 788.7L941.5 786.6L941.5 788.6L937.5 789.6ZM941.5 786.6L944.5 784.0L944.5 787.1L941.5 788.6ZM944.5 784.0L948.5 783.9L948.5 786.0L944.5 787.1ZM948.5 783.9L952.5 781.8L952.5 784.6L948.5 786.0ZM952.5 781.8L955.5 778.1L955.5 782.4L952.5 784.6ZM955.5 778.1L959.5 777.2L959.5 780.7L955.5 782.4ZM993.5 808.7L997.5 806.9L997.5 807.7L993.5 808.1ZM997.5 806.9L1000.5 802.9L1000.5 806.1L997.5 807.7ZM1000.5 802.9L1004.5 799.7L1004.5 803.9L1000.5 806.1ZM1004.5 799.7L1008.5 798.4L1008.5 802.1L1004.5 803.9ZM1008.5 798.4L1011.5 798.7L1011.5 801.0L1008.5 802.1ZM1011.5 798.7L1015.5 796.3L1015.5 799.4L1011.5 801.0ZM1015.5 796.3L1019.5 793.5L1019.5 797.4L1015.5 799.4ZM1019.5 793.5L1022.5 793.1L1022.5 796.0L1019.5 797.4ZM1022.5 793.1L1025.5 798.1L1025.5 796.7L1022.5 796.0ZM1057.5 815.0L1060.5 814.1L1060.5 814.8L1057.5 815.1ZM1060.5 814.1L1068.5 814.8L1068.5 814.8L1060.5 814.8ZM1068.5 814.8L1075.5 814.0L1075.5 814.5L1068.5 814.8ZM1075.5 814.0L1079.5 813.3L1079.5 814.1L1075.5 814.5ZM1079.5 813.3L1082.5 811.3L1082.5 813.2L1079.5 814.1ZM1082.5 811.3L1086.5 812.6L1086.5 813.0L1082.5 813.2ZM1086.5 812.6L1088.5 808.7L1088.5 811.6L1086.5 813.0ZM1088.5 808.7L1092.5 800.3L1092.5 807.8L1088.5 811.6ZM1092.5 800.3L1096.5 794.0L1096.5 803.2L1092.5 807.8ZM1096.5 794.0L1099.5 790.5L1099.5 799.0L1096.5 803.2ZM1099.5 790.5L1103.5 786.2L1103.5 794.7L1099.5 799.0ZM1103.5 786.2L1107.5 785.8L1107.5 791.7L1103.5 794.7ZM1107.5 785.8L1110.5 785.5L1110.5 789.6L1107.5 791.7ZM1110.5 785.5L1114.5 785.7L1114.5 788.3L1110.5 789.6ZM1114.5 785.7L1118.5 789.2L1118.5 788.6L1114.5 788.3ZM1118.5 789.2L1120.5 787.1L1120.5 788.1L1118.5 788.6ZM1120.5 787.1L1124.5 787.6L1124.5 787.9L1120.5 788.1ZM1184.5 828.9L1187.5 823.0L1187.5 828.2L1184.5 830.8ZM1187.5 823.0L1191.5 823.7L1191.5 826.7L1187.5 828.2ZM1191.5 823.7L1195.5 818.7L1195.5 824.0L1191.5 826.7ZM1195.5 818.7L1198.5 814.7L1198.5 820.9L1195.5 824.0ZM1198.5 814.7L1202.5 811.6L1202.5 817.8L1198.5 820.9ZM1202.5 811.6L1206.5 799.9L1206.5 811.8L1202.5 817.8ZM1206.5 799.9L1209.5 790.6L1209.5 804.8L1206.5 811.8Z" fill="#c9f2c9" stroke="none"/>
<path d="M6.5 789.7L8.5 794.7L8.5 792.5L6.5 789.1ZM8.5 794.7L12.5 802.7L12.5 797.7L8.5 792.5ZM12.5 802.7L16.5 809.2L16.5 801.9L12.5 797.7ZM16.5 809.2L19.5 815.3L19.5 805.3L16.5 801.9ZM19.5 815.3L23.5 808.6L23.5 807.1L19.5 805.3ZM69.5 786.2L72.5 785.3L72.5 784.4L69.5 784.7ZM72.5 785.3L75.5 784.0L75.5 783.9L72.5 784.4ZM86.5 787.9L90.5 803.6L90.5 792.0L86.5 786.1ZM90.5 803.6L94.5 805.0L94.5 796.1L90.5 792.0ZM94.5 805.0L97.5 806.9L97.5 799.3L94.5 796.1ZM97.5 806.9L101.5 814.3L101.5 804.8L97.5 799.3ZM101.5 814.3L104.5 819.9L104.5 810.8L101.5 804.8ZM104.5 819.9L107.5 818.2L107.5 812.8L104.5 810.8ZM107.5 818.2L111.5 814.6L111.5 813.0L107.5 812.8ZM111.5 814.6L114.5 810.9L114.5 812.5L111.5 813.0ZM118.5 811.1L122.5 815.1L122.5 813.0L118.5 811.9ZM150.5 795.6L154.5 797.2L154.5 796.4L150.5 796.1ZM154.5 797.2L157.5 802.2L157.5 798.4L154.5 796.4ZM157.5 802.2L161.5 803.7L161.5 800.1L157.5 798.4ZM161.5 803.7L165.5 807.4L165.5 802.5L161.5 800.1ZM165.5 807.4L167.5 816.6L167.5 807.2L165.5 802.5ZM167.5 816.6L171.5 819.2L171.5 811.2L167.5 807.2ZM171.5 819.2L174.5 824.1L174.5 815.5L171.5 811.2ZM174.5 824.1L178.5 829.0L178.5 820.0L174.5 815.5ZM178.5 829.0L182.5 833.4L182.5 824.5L178.5 820.0ZM182.5 833.4L185.5 837.0L185.5 828.7L182.5 824.5ZM185.5 837.0L189.5 838.1L189.5 831.8L185.5 828.7ZM189.5 838.1L193.5 839.0L193.5 834.2L189.5 831.8ZM193.5 839.0L196.5 838.0L196.5 835.5L193.5 834.2ZM196.5 838.0L199.5 834.9L199.5 835.3L196.5 835.5ZM256.5 775.9L260.5 778.1L260.5 776.1L256.5 775.1ZM260.5 778.1L262.5 775.6L262.5 775.9L260.5 776.1ZM262.5 775.6L266.5 781.2L266.5 777.7L262.5 775.9ZM266.5 781.2L270.5 791.3L270.5 782.2L266.5 777.7ZM270.5 791.3L273.5 795.9L273.5 786.8L270.5 782.2ZM273.5 795.9L277.5 801.3L277.5 791.6L273.5 786.8ZM277.5 801.3L281.5 805.6L281.5 796.3L277.5 791.6ZM281.5 805.6L284.5 811.2L284.5 801.2L281.5 796.3ZM284.5 811.2L288.5 809.6L288.5 804.0L284.5 801.2ZM288.5 809.6L292.5 808.4L292.5 805.5L288.5 804.0ZM292.5 808.4L294.5 812.2L294.5 807.7L292.5 805.5ZM294.5 812.2L298.5 810.1L298.5 808.5L294.5 807.7ZM320.5 804.9L323.5 806.5L323.5 805.4L320.5 804.8ZM323.5 806.5L326.5 804.3L326.5 805.0L323.5 805.4ZM358.5 788.5L361.5 792.7L361.5 789.9L358.5 788.5ZM361.5 792.7L365.5 797.8L365.5 792.5L361.5 789.9ZM365.5 797.8L369.5 793.6L369.5 792.9L365.5 792.5ZM369.5 793.6L372.5 800.6L372.5 795.4L369.5 792.9ZM372.5 800.6L380.5 801.1L380.5 797.3L372.5 795.4ZM380.5 801.1L383.5 805.6L383.5 800.1L380.5 797.3ZM383.5 805.6L387.5 810.2L387.5 803.4L383.5 800.1ZM387.5 810.2L393.5 808.8L393.5 805.2L387.5 803.4ZM393.5 808.8L397.5 808.7L397.5 806.4L393.5 805.2ZM397.5 808.7L400.5 806.7L400.5 806.5L397.5 806.4ZM411.5 807.9L415.5 813.0L415.5 808.6L411.5 806.4ZM415.5 813.0L419.5 818.1L419.5 811.8L415.5 808.6ZM419.5 818.1L421.5 817.0L421.5 813.5L419.5 811.8ZM421.5 817.0L425.5 818.8L425.5 815.3L421.5 813.5ZM425.5 818.8L429.5 821.2L429.5 817.2L425.5 815.3ZM429.5 821.2L432.5 820.9L432.5 818.5L429.5 817.2ZM432.5 820.9L440.5 820.8L440.5 819.2L432.5 818.5ZM440.5 820.8L443.5 823.5L443.5 820.7L440.5 819.2ZM443.5 823.5L447.5 825.2L447.5 822.2L443.5 820.7ZM447.5 825.2L451.5 828.0L451.5 824.1L447.5 822.2ZM451.5 828.0L453.5 833.1L453.5 827.1L451.5 824.1ZM453.5 833.1L457.5 837.1L457.5 830.4L453.5 827.1ZM457.5 837.1L460.5 835.2L460.5 832.0L457.5 830.4ZM460.5 835.2L464.5 828.4L464.5 830.8L460.5 832.0ZM539.5 776.2L542.5 776.6L542.5 776.1L539.5 775.9ZM542.5 776.6L546.5 777.0L546.5 776.4L542.5 776.1ZM546.5 777.0L548.5 784.1L548.5 779.0L546.5 776.4ZM548.5 784.1L552.5 789.8L552.5 782.6L548.5 779.0ZM552.5 789.8L556.5 798.8L556.5 788.0L552.5 782.6ZM556.5 798.8L559.5 804.3L559.5 793.4L556.5 788.0ZM559.5 804.3L563.5 814.1L563.5 800.3L559.5 793.4ZM563.5 814.1L567.5 816.5L567.5 805.7L563.5 800.3ZM567.5 816.5L570.5 816.6L570.5 809.4L567.5 805.7ZM570.5 816.6L574.5 817.6L574.5 812.1L570.5 809.4ZM574.5 817.6L578.5 815.7L578.5 813.3L574.5 812.1ZM578.5 815.7L580.5 821.4L580.5 816.0L578.5 813.3ZM580.5 821.4L584.5 826.0L584.5 819.3L580.5 816.0ZM584.5 826.0L587.5 822.4L587.5 820.3L584.5 819.3ZM587.5 822.4L595.5 819.5L595.5 820.1L587.5 820.3ZM602.5 818.1L606.5 825.1L606.5 820.9L602.5 818.8ZM606.5 825.1L609.5 830.8L609.5 824.2L606.5 820.9ZM609.5 830.8L612.5 835.3L612.5 827.9L609.5 824.2ZM612.5 835.3L616.5 838.9L616.5 831.6L612.5 827.9ZM616.5 838.9L619.5 841.8L619.5 835.0L616.5 831.6ZM619.5 841.8L623.5 834.1L623.5 834.7L619.5 835.0ZM669.5 807.5L673.5 816.7L673.5 812.9L669.5 811.0ZM673.5 816.7L675.5 812.7L675.5 812.9L673.5 812.9ZM675.5 812.7L679.5 813.0L679.5 812.9L675.5 812.9ZM679.5 813.0L686.5 813.3L686.5 813.0L679.5 812.9ZM686.5 813.3L690.5 816.1L690.5 814.1L686.5 813.0ZM690.5 816.1L694.5 814.9L694.5 814.3L690.5 814.1ZM694.5 814.9L697.5 814.7L697.5 814.5L694.5 814.3ZM697.5 814.7L701.5 814.6L701.5 814.5L697.5 814.5ZM736.5 802.9L739.5 808.2L739.5 805.3L736.5 803.9ZM739.5 808.2L743.5 814.4L743.5 808.4L739.5 805.3ZM743.5 814.4L746.5 819.3L746.5 812.0L743.5 808.4ZM746.5 819.3L750.5 819.8L750.5 814.6L746.5 812.0ZM750.5 819.8L754.5 820.2L754.5 816.5L750.5 814.6ZM754.5 820.2L757.5 820.6L757.5 817.9L754.5 816.5ZM757.5 820.6L761.5 824.0L761.5 819.9L757.5 817.9ZM761.5 824.0L768.5 822.5L768.5 820.8L761.5 819.9ZM768.5 822.5L771.5 828.7L771.5 823.4L768.5 820.8ZM771.5 828.7L774.5 822.3L774.5 823.0L771.5 823.4ZM796.5 818.0L800.5 822.7L800.5 820.5L796.5 819.4ZM800.5 822.7L802.5 821.7L802.5 820.9L800.5 820.5ZM802.5 821.7L810.5 820.8L810.5 820.9L802.5 820.9ZM881.5 769.0L884.5 773.3L884.5 770.1L881.5 768.5ZM884.5 773.3L888.5 773.5L888.5 771.2L884.5 770.1ZM888.5 773.5L892.5 773.7L892.5 772.1L888.5 771.2ZM892.5 773.7L895.5 771.7L895.5 772.0L892.5 772.1ZM909.5 770.9L912.5 776.0L912.5 771.5L909.5 769.2ZM912.5 776.0L916.5 778.2L916.5 773.7L912.5 771.5ZM916.5 778.2L920.5 786.5L920.5 778.0L916.5 773.7ZM920.5 786.5L923.5 790.4L923.5 782.1L920.5 778.0ZM923.5 790.4L927.5 797.0L927.5 787.1L923.5 782.1ZM927.5 797.0L930.5 794.0L930.5 789.4L927.5 787.1ZM930.5 794.0L933.5 791.6L933.5 790.1L930.5 789.4ZM933.5 791.6L937.5 788.7L937.5 789.6L933.5 790.1ZM959.5 777.2L961.5 786.4L961.5 782.6L959.5 780.7ZM961.5 786.4L965.5 793.8L965.5 786.3L961.5 782.6ZM965.5 793.8L969.5 799.7L969.5 790.8L965.5 786.3ZM969.5 799.7L976.5 804.5L976.5 795.4L969.5 790.8ZM976.5 804.5L980.5 807.2L980.5 799.3L976.5 795.4ZM980.5 807.2L983.5 810.5L983.5 803.0L980.5 799.3ZM983.5 810.5L987.5 810.1L987.5 805.4L983.5 803.0ZM987.5 810.1L991.5 812.5L991.5 807.7L987.5 805.4ZM991.5 812.5L993.5 808.7L993.5 808.1L991.5 807.7ZM1025.5 798.1L1029.5 799.1L1029.5 797.5L1025.5 796.7ZM1029.5 799.1L1032.5 802.8L1032.5 799.3L1029.5 797.5ZM1032.5 802.8L1036.5 808.7L1036.5 802.4L1032.5 799.3ZM1036.5 808.7L1040.5 811.9L1040.5 805.6L1036.5 802.4ZM1040.5 811.9L1043.5 817.3L1043.5 809.5L1040.5 805.6ZM1043.5 817.3L1047.5 814.6L1047.5 811.2L1043.5 809.5ZM1047.5 814.6L1051.5 816.6L1051.5 813.0L1047.5 811.2ZM1051.5 816.6L1054.5 819.7L1054.5 815.2L1051.5 813.0ZM1054.5 819.7L1057.5 815.0L1057.5 815.1L1054.5 815.2ZM1124.5 787.6L1128.5 792.8L1128.5 789.6L1124.5 787.9ZM1128.5 792.8L1135.5 796.9L1135.5 792.0L1128.5 789.6ZM1135.5 796.9L1142.5 802.2L1142.5 795.4L1135.5 792.0ZM1142.5 802.2L1146.5 810.4L1146.5 800.4L1142.5 795.4ZM1146.5 810.4L1150.5 819.0L1150.5 806.6L1146.5 800.4ZM1150.5 819.0L1152.5 821.9L1152.5 811.7L1150.5 806.6ZM1152.5 821.9L1156.5 824.2L1156.5 815.9L1152.5 811.7ZM1156.5 824.2L1159.5 824.0L1159.5 818.6L1156.5 815.9ZM1159.5 824.0L1163.5 829.9L1163.5 822.4L1159.5 818.6ZM1163.5 829.9L1167.5 832.8L1167.5 825.8L1163.5 822.4ZM1167.5 832.8L1170.5 829.6L1170.5 827.1L1167.5 825.8ZM1170.5 829.6L1174.5 830.8L1174.5 828.3L1170.5 827.1ZM1174.5 830.8L1178.5 832.0L1178.5 829.5L1174.5 828.3ZM1178.5 832.0L1181.5 836.2L1181.5 831.8L1178.5 829.5ZM1181.5 836.2L1184.5 828.9L1184.5 830.8L1181.5 831.8Z" fill="#fccaca" stroke="none"/>
<path d="M2.5 785.2L6.5 789.7L8.5 794.7L12.5 802.7L16.5 809.2L19.5 815.3L23.5 808.6L27.5 799.4L30.5 793.8L37.5 793.3L40.5 794.1L44.5 793.7L47.5 791.6L55.5 785.1L58.5 782.1L62.5 778.7L66.5 781.0L69.5 786.2L72.5 785.3L75.5 784.0L79.5 780.8L83.5 780.2L86.5 787.9L90.5 803.6L94.5 805.0L97.5 806.9L101.5 814.3L104.5 819.9L107.5 818.2L111.5 814.6L114.5 810.9L118.5 811.1L122.5 815.1L125.5 807.2L129.5 799.8L133.5 795.5L135.5 796.5L139.5 796.0L143.5 794.3L146.5 793.6L150.5 795.6L154.5 797.2L157.5 802.2L161.5 803.7L165.5 807.4L167.5 816.6L171.5 819.2L174.5 824.1L178.5 829.0L182.5 833.4L185.5 837.0L189.5 838.1L193.5 839.0L196.5 838.0L199.5 834.9L202.5 828.6L206.5 825.2L210.5 820.0L213.5 814.1L217.5 806.9L221.5 804.9L224.5 800.5L228.5 795.6L231.5 787.1L234.5 781.4L238.5 777.2L242.5 774.3L245.5 771.9L249.5 769.5L253.5 772.1L256.5 775.9L260.5 778.1L262.5 775.6L266.5 781.2L270.5 791.3L273.5 795.9L277.5 801.3L281.5 805.6L284.5 811.2L288.5 809.6L292.5 808.4L294.5 812.2L298.5 810.1L301.5 806.1L305.5 803.0L309.5 802.7L312.5 805.4L316.5 803.9L320.5 804.9L323.5 806.5L326.5 804.3L333.5 802.6L337.5 795.0L341.5 791.9L344.5 787.9L348.5 783.9L352.5 783.8L355.5 788.1L358.5 788.5L361.5 792.7L365.5 797.8L369.5 793.6L372.5 800.6L380.5 801.1L383.5 805.6L387.5 810.2L393.5 808.8L397.5 808.7L400.5 806.7L408.5 804.0L411.5 807.9L415.5 813.0L419.5 818.1L421.5 817.0L425.5 818.8L429.5 821.2L432.5 820.9L440.5 820.8L443.5 823.5L447.5 825.2L451.5 828.0L453.5 833.1L457.5 837.1L460.5 835.2L464.5 828.4L468.5 816.9L475.5 812.0L479.5 803.8L482.5 805.1L485.5 806.2L488.5 803.3L496.5 800.0L499.5 799.2L507.5 792.0L510.5 787.8L514.5 781.6L517.5 780.8L520.5 776.0L524.5 772.2L531.5 771.2L535.5 773.2L539.5 776.2L542.5 776.6L546.5 777.0L548.5 784.1L552.5 789.8L556.5 798.8L559.5 804.3L563.5 814.1L567.5 816.5L570.5 816.6L574.5 817.6L578.5 815.7L580.5 821.4L584.5 826.0L587.5 822.4L595.5 819.5L598.5 817.2L602.5 818.1L606.5 825.1L609.5 830.8L612.5 835.3L616.5 838.9L619.5 841.8L623.5 834.1L627.5 822.6L637.5 814.9L641.5 813.4L644.5 811.4L658.5 811.3L662.5 811.3L666.5 809.7L669.5 807.5L673.5 816.7L675.5 812.7L679.5 813.0L686.5 813.3L690.5 816.1L694.5 814.9L697.5 814.7L701.5 814.6L705.5 808.5L707.5 803.6L715.5 801.4L718.5 801.3L722.5 803.0L725.5 804.5L736.5 802.9L739.5 808.2L743.5 814.4L746.5 819.3L750.5 819.8L754.5 820.2L757.5 820.6L761.5 824.0L768.5 822.5L771.5 828.7L774.5 822.3L778.5 822.4L785.5 822.5L789.5 819.2L793.5 817.2L796.5 818.0L800.5 822.7L802.5 821.7L810.5 820.8L813.5 812.9L817.5 805.4L821.5 796.1L824.5 793.1L834.5 785.2L838.5 778.8L842.5 776.4L845.5 773.5L849.5 773.0L853.5 771.7L860.5 768.9L864.5 765.8L866.5 764.8L877.5 766.7L881.5 769.0L884.5 773.3L888.5 773.5L892.5 773.7L895.5 771.7L898.5 769.7L901.5 766.4L905.5 765.8L909.5 770.9L912.5 776.0L916.5 778.2L920.5 786.5L923.5 790.4L927.5 797.0L930.5 794.0L933.5 791.6L937.5 788.7L941.5 786.6L944.5 784.0L948.5 783.9L952.5 781.8L955.5 778.1L959.5 777.2L961.5 786.4L965.5 793.8L969.5 799.7L976.5 804.5L980.5 807.2L983.5 810.5L987.5 810.1L991.5 812.5L993.5 808.7L997.5 806.9L1000.5 802.9L1004.5 799.7L1008.5 798.4L1011.5 798.7L1015.5 796.3L1019.5 793.5L1022.5 793.1L1025.5 798.1L1029.5 799.1L1032.5 802.8L1036.5 808.7L1040.5 811.9L1043.5 817.3L1047.5 814.6L1051.5 816.6L1054.5 819.7L1057.5 815.0L1060.5 814.1L1068.5 814.8L1075.5 814.0L1079.5 813.3L1082.5 811.3L1086.5 812.6L1088.5 808.7L1092.5 800.3L1096.5 794.0L1099.5 790.5L1103.5 786.2L1107.5 785.8L1110.5 785.5L1114.5 785.7L1118.5 789.2L1120.5 787.1L1124.5 787.6L1128.5 792.8L1135.5 796.9L1142.5 802.2L1146.5 810.4L1150.5 819.0L1152.5 821.9L1156.5 824.2L1159.5 824.0L1163.5 829.9L1167.5 832.8L1170.5 829.6L1174.5 830.8L1178.5 832.0L1181.5 836.2L1184.5 828.9L1187.5 823.0L1191.5 823.7L1195.5 818.7L1198.5 814.7L1202.5 811.6L1206.5 799.9L1209.5 790.6" stroke="#23982a" stroke-width="1.5" fill="none" stroke-linejoin="round"/>
<path d="M2.5 786.2L6.5 789.1L8.5 792.5L12.5 797.7L16.5 801.9L19.5 805.3L23.5 807.1L27.5 804.1L30.5 801.1L37.5 795.7L40.5 795.3L44.5 795.2L47.5 793.7L55.5 788.7L58.5 786.1L62.5 782.2L66.5 782.5L69.5 784.7L72.5 784.4L75.5 783.9L79.5 782.7L83.5 782.2L86.5 786.1L90.5 792.0L94.5 796.1L97.5 799.3L101.5 804.8L104.5 810.8L107.5 812.8L111.5 813.0L114.5 812.5L118.5 811.9L122.5 813.0L125.5 811.1L129.5 807.3L133.5 803.4L135.5 801.1L139.5 799.4L143.5 797.7L146.5 796.3L150.5 796.1L154.5 796.4L157.5 798.4L161.5 800.1L165.5 802.5L167.5 807.2L171.5 811.2L174.5 815.5L178.5 820.0L182.5 824.5L185.5 828.7L189.5 831.8L193.5 834.2L196.5 835.5L199.5 835.3L202.5 833.1L206.5 830.4L210.5 827.0L213.5 822.7L217.5 817.4L221.5 813.2L224.5 809.0L228.5 804.5L231.5 798.7L234.5 792.9L238.5 787.7L242.5 783.2L245.5 779.4L249.5 776.1L253.5 774.8L256.5 775.1L260.5 776.1L262.5 775.9L266.5 777.7L270.5 782.2L273.5 786.8L277.5 791.6L281.5 796.3L284.5 801.2L288.5 804.0L292.5 805.5L294.5 807.7L298.5 808.5L301.5 807.7L305.5 806.1L309.5 805.0L312.5 805.1L316.5 804.7L320.5 804.8L323.5 805.4L326.5 805.0L333.5 804.2L337.5 801.1L341.5 798.0L344.5 794.6L348.5 791.1L352.5 788.6L355.5 788.4L358.5 788.5L361.5 789.9L365.5 792.5L369.5 792.9L372.5 795.4L380.5 797.3L383.5 800.1L387.5 803.4L393.5 805.2L397.5 806.4L400.5 806.5L408.5 805.7L411.5 806.4L415.5 808.6L419.5 811.8L421.5 813.5L425.5 815.3L429.5 817.2L432.5 818.5L440.5 819.2L443.5 820.7L447.5 822.2L451.5 824.1L453.5 827.1L457.5 830.4L460.5 832.0L464.5 830.8L468.5 826.2L475.5 821.4L479.5 815.5L482.5 812.1L485.5 810.1L488.5 807.8L496.5 805.2L499.5 803.2L507.5 799.5L510.5 795.6L514.5 790.9L517.5 787.6L520.5 783.7L524.5 779.9L531.5 777.0L535.5 775.7L539.5 775.9L542.5 776.1L546.5 776.4L548.5 779.0L552.5 782.6L556.5 788.0L559.5 793.4L563.5 800.3L567.5 805.7L570.5 809.4L574.5 812.1L578.5 813.3L580.5 816.0L584.5 819.3L587.5 820.3L595.5 820.1L598.5 819.1L602.5 818.8L606.5 820.9L609.5 824.2L612.5 827.9L616.5 831.6L619.5 835.0L623.5 834.7L627.5 830.7L637.5 825.4L641.5 821.4L644.5 818.1L658.5 815.8L662.5 814.3L666.5 812.8L669.5 811.0L673.5 812.9L675.5 812.9L679.5 812.9L686.5 813.0L690.5 814.1L694.5 814.3L697.5 814.5L701.5 814.5L705.5 812.5L707.5 809.5L715.5 806.8L718.5 805.0L722.5 804.3L725.5 804.4L736.5 803.9L739.5 805.3L743.5 808.4L746.5 812.0L750.5 814.6L754.5 816.5L757.5 817.9L761.5 819.9L768.5 820.8L771.5 823.4L774.5 823.0L778.5 822.8L785.5 822.7L789.5 821.5L793.5 820.1L796.5 819.4L800.5 820.5L802.5 820.9L810.5 820.9L813.5 818.2L817.5 813.9L821.5 808.0L824.5 803.0L834.5 797.1L838.5 791.0L842.5 786.1L845.5 781.9L849.5 778.9L853.5 776.5L860.5 774.0L864.5 771.2L866.5 769.1L877.5 768.3L881.5 768.5L884.5 770.1L888.5 771.2L892.5 772.1L895.5 772.0L898.5 771.2L901.5 769.6L905.5 768.3L909.5 769.2L912.5 771.5L916.5 773.7L920.5 778.0L923.5 782.1L927.5 787.1L930.5 789.4L933.5 790.1L937.5 789.6L941.5 788.6L944.5 787.1L948.5 786.0L952.5 784.6L955.5 782.4L959.5 780.7L961.5 782.6L965.5 786.3L969.5 790.8L976.5 795.4L980.5 799.3L983.5 803.0L987.5 805.4L991.5 807.7L993.5 808.1L997.5 807.7L1000.5 806.1L1004.5 803.9L1008.5 802.1L1011.5 801.0L1015.5 799.4L1019.5 797.4L1022.5 796.0L1025.5 796.7L1029.5 797.5L1032.5 799.3L1036.5 802.4L1040.5 805.6L1043.5 809.5L1047.5 811.2L1051.5 813.0L1054.5 815.2L1057.5 815.1L1060.5 814.8L1068.5 814.8L1075.5 814.5L1079.5 814.1L1082.5 813.2L1086.5 813.0L1088.5 811.6L1092.5 807.8L1096.5 803.2L1099.5 799.0L1103.5 794.7L1107.5 791.7L1110.5 789.6L1114.5 788.3L1118.5 788.6L1120.5 788.1L1124.5 787.9L1128.5 789.6L1135.5 792.0L1142.5 795.4L1146.5 800.4L1150.5 806.6L1152.5 811.7L1156.5 815.9L1159.5 818.6L1163.5 822.4L1167.5 825.8L1170.5 827.1L1174.5 828.3L1178.5 829.5L1181.5 831.8L1184.5 830.8L1187.5 828.2L1191.5 826.7L1195.5 824.0L1198.5 820.9L1202.5 817.8L1206.5 811.8L1209.5 804.8" stroke="#fa2a2a" stroke-width="1.5" fill="none" stroke-linejoin="round"/>
</g>
<path d="M3 119.5H1583" stroke="#f3c9c9" stroke-width="1" fill="none" shape-rendering="crispEdges"/>
<path d="M2.5 119V853M1582.5 119V853" stroke="#e6dcdc" stroke-width="1" fill="none" shape-rendering="crispEdges"/>
<path d="M2 852.5H1583" stroke="#dcdcdc" stroke-width="1" fill="none" shape-rendering="crispEdges"/>
<path d="M3 653.5H1583" stroke="#dedede" stroke-width="1" fill="none" shape-rendering="crispEdges"/>
<rect x="3" y="752" width="1580" height="1.8" fill="#e0e0e0"/>
<path d="M1533.5 133V635M3 634.5H1534" stroke="#333" stroke-width="1" fill="none" shape-rendering="crispEdges"/>
<path d="M1533.5 654V852" stroke="#000" stroke-width="1.4" fill="none" shape-rendering="crispEdges"/>
<path d="M3 187.5H1533" stroke="#333" stroke-width="1" stroke-dasharray="2 1" fill="none" shape-rendering="crispEdges"/>
<path d="M2.4 231.5H1533" stroke="#1c1cff" stroke-width="1.15" stroke-dasharray="4 4" fill="none"/>
<path d="M3 265.5H1533" stroke="#222" stroke-width="1.3" fill="none" shape-rendering="crispEdges"/>
<text x="5.5" y="263.3" font-family='"Liberation Sans", Arial, sans-serif' font-size="11" font-weight="bold" fill="#111" textLength="29.5" lengthAdjust="spacingAndGlyphs">2,861</text>
<text y="130.9" font-family='"Liberation Sans", Arial, sans-serif' font-size="10.7" font-weight="bold" fill="#111" stroke="#111" stroke-width="0.2"><tspan x="4.4" textLength="78.0" lengthAdjust="spacingAndGlyphs">PCBOLSA.COM</tspan><tspan x="86.5" textLength="3.2" lengthAdjust="spacingAndGlyphs">-</tspan><tspan x="92.8" textLength="27.4" lengthAdjust="spacingAndGlyphs">Talgo</tspan><tspan x="125.5" textLength="42.7" lengthAdjust="spacingAndGlyphs">Intradia</tspan><tspan x="172.6" textLength="64.2" lengthAdjust="spacingAndGlyphs">Logaritmico</tspan><tspan x="240.5" textLength="46.1" lengthAdjust="spacingAndGlyphs">9/2/2026</tspan><tspan x="291.0" textLength="3.2" lengthAdjust="spacingAndGlyphs">-</tspan><tspan x="296.5" textLength="52.7" lengthAdjust="spacingAndGlyphs">20/4/2026</tspan><tspan x="352.9" textLength="1.9" lengthAdjust="spacingAndGlyphs">,</tspan><tspan x="359.2" textLength="42.6" lengthAdjust="spacingAndGlyphs">16:41:29</tspan><tspan x="405.6" textLength="34.7" lengthAdjust="spacingAndGlyphs">Renta:</tspan><tspan x="444.0" textLength="34.6" lengthAdjust="spacingAndGlyphs">-1,02%</tspan></text>
<text x="20.0" y="147.2" font-family='"Liberation Sans", Arial, sans-serif' font-size="10.5" font-weight="bold" fill="#a5d3fa" textLength="50.5" lengthAdjust="spacingAndGlyphs">SMA (100)</text>
<text x="74.6" y="147.2" font-family='"Liberation Sans", Arial, sans-serif' font-size="10.5" font-weight="bold" fill="#dedede" textLength="50.2" lengthAdjust="spacingAndGlyphs">BOLL (20)</text>
<text x="19.7" y="666.3" font-family='"Liberation Sans", Arial, sans-serif' font-size="10.5" font-weight="bold" fill="#111" textLength="74.3" lengthAdjust="spacingAndGlyphs" xml:space="preserve">RSI (14)   66,64</text>
<text x="20.1" y="766.4" font-family='"Liberation Sans", Arial, sans-serif' font-size="10.5" font-weight="bold" fill="#111" textLength="95.9" lengthAdjust="spacingAndGlyphs" xml:space="preserve">STO (18,9,5)   62,80</text>
<text x="1535.2" y="150.7" font-family='"Liberation Sans", Arial, sans-serif' font-size="10.6" font-weight="bold" fill="#111" textLength="32.6" lengthAdjust="spacingAndGlyphs">2,9400</text>
<text x="1535.2" y="161.1" font-family='"Liberation Sans", Arial, sans-serif' font-size="10.6" font-weight="bold" fill="#2aa675" textLength="29.7" lengthAdjust="spacingAndGlyphs">5,75%</text>
<text x="1535.2" y="207.8" font-family='"Liberation Sans", Arial, sans-serif' font-size="10.6" font-weight="normal" fill="#111" textLength="32.6" lengthAdjust="spacingAndGlyphs">2,8999</text>
<text x="1535.2" y="218.2" font-family='"Liberation Sans", Arial, sans-serif' font-size="10.6" font-weight="normal" fill="#2aa675" textLength="29.7" lengthAdjust="spacingAndGlyphs">4,31%</text>
<text x="1535.2" y="264.8" font-family='"Liberation Sans", Arial, sans-serif' font-size="10.6" font-weight="normal" fill="#111" textLength="32.6" lengthAdjust="spacingAndGlyphs">2,8604</text>
<text x="1535.2" y="275.2" font-family='"Liberation Sans", Arial, sans-serif' font-size="10.6" font-weight="normal" fill="#2aa675" textLength="29.7" lengthAdjust="spacingAndGlyphs">2,89%</text>
<text x="1535.2" y="321.8" font-family='"Liberation Sans", Arial, sans-serif' font-size="10.6" font-weight="normal" fill="#111" textLength="32.6" lengthAdjust="spacingAndGlyphs">2,8215</text>
<text x="1535.2" y="332.2" font-family='"Liberation Sans", Arial, sans-serif' font-size="10.6" font-weight="normal" fill="#2aa675" textLength="29.7" lengthAdjust="spacingAndGlyphs">1,49%</text>
<text x="1535.2" y="378.9" font-family='"Liberation Sans", Arial, sans-serif' font-size="10.6" font-weight="normal" fill="#111" textLength="32.6" lengthAdjust="spacingAndGlyphs">2,7831</text>
<text x="1535.2" y="389.3" font-family='"Liberation Sans", Arial, sans-serif' font-size="10.6" font-weight="normal" fill="#2aa675" textLength="29.7" lengthAdjust="spacingAndGlyphs">0,11%</text>
<text x="1535.2" y="436.0" font-family='"Liberation Sans", Arial, sans-serif' font-size="10.6" font-weight="normal" fill="#111" textLength="32.6" lengthAdjust="spacingAndGlyphs">2,7452</text>
<text x="1535.2" y="446.4" font-family='"Liberation Sans", Arial, sans-serif' font-size="10.6" font-weight="normal" fill="#fd5555" textLength="33.6" lengthAdjust="spacingAndGlyphs">-1,25%</text>
<text x="1535.2" y="493.1" font-family='"Liberation Sans", Arial, sans-serif' font-size="10.6" font-weight="normal" fill="#111" textLength="32.6" lengthAdjust="spacingAndGlyphs">2,7078</text>
<text x="1535.2" y="503.5" font-family='"Liberation Sans", Arial, sans-serif' font-size="10.6" font-weight="normal" fill="#fd5555" textLength="33.6" lengthAdjust="spacingAndGlyphs">-2,59%</text>
<text x="1535.2" y="549.8" font-family='"Liberation Sans", Arial, sans-serif' font-size="10.6" font-weight="normal" fill="#111" textLength="32.6" lengthAdjust="spacingAndGlyphs">2,6709</text>
<text x="1535.2" y="560.2" font-family='"Liberation Sans", Arial, sans-serif' font-size="10.6" font-weight="normal" fill="#fd5555" textLength="33.6" lengthAdjust="spacingAndGlyphs">-3,92%</text>
<text x="1535.2" y="613.7" font-family='"Liberation Sans", Arial, sans-serif' font-size="10.6" font-weight="bold" fill="#111" textLength="32.6" lengthAdjust="spacingAndGlyphs">2,6300</text>
<text x="1535.2" y="624.1" font-family='"Liberation Sans", Arial, sans-serif' font-size="10.6" font-weight="bold" fill="#fd5555" textLength="33.6" lengthAdjust="spacingAndGlyphs">-5,39%</text>
<rect x="1532.5" y="224.5" width="46.2" height="14.2" fill="#229a6c"/>
<text x="1535.2" y="235.0" font-family='"Liberation Sans", Arial, sans-serif' font-size="10.6" font-weight="bold" fill="#fff" textLength="34.8" lengthAdjust="spacingAndGlyphs">2,8850</text>
<text x="1535.2" y="670.2" font-family='"Liberation Sans", Arial, sans-serif' font-size="10.6" font-weight="bold" fill="#f00" textLength="11.3" lengthAdjust="spacingAndGlyphs">70</text>
<text x="1535.2" y="701.0" font-family='"Liberation Sans", Arial, sans-serif' font-size="10.6" font-weight="bold" fill="#111" textLength="11.3" lengthAdjust="spacingAndGlyphs">50</text>
<text x="1535.2" y="731.0" font-family='"Liberation Sans", Arial, sans-serif' font-size="10.6" font-weight="bold" fill="#0a8a0a" textLength="11.3" lengthAdjust="spacingAndGlyphs">30</text>
<rect x="1532" y="666" width="46.6" height="13.8" fill="#000"/>
<text x="1535.2" y="676.6" font-family='"Liberation Sans", Arial, sans-serif' font-size="10.6" font-weight="bold" fill="#fff" textLength="34.8" lengthAdjust="spacingAndGlyphs">66,641</text>
<text x="1535.2" y="777.2" font-family='"Liberation Sans", Arial, sans-serif' font-size="10.6" font-weight="bold" fill="#f00" textLength="11.3" lengthAdjust="spacingAndGlyphs">80</text>
<text x="1535.2" y="807.3" font-family='"Liberation Sans", Arial, sans-serif' font-size="10.6" font-weight="bold" fill="#111" textLength="11.3" lengthAdjust="spacingAndGlyphs">50</text>
<text x="1535.2" y="837.0" font-family='"Liberation Sans", Arial, sans-serif' font-size="10.6" font-weight="bold" fill="#0a8a0a" textLength="11.3" lengthAdjust="spacingAndGlyphs">20</text>
<rect x="1532" y="783.8" width="46.6" height="13.9" fill="#000"/>
<text x="1535.2" y="794.5" font-family='"Liberation Sans", Arial, sans-serif' font-size="10.6" font-weight="bold" fill="#fff" textLength="34.8" lengthAdjust="spacingAndGlyphs">62,808</text>
<text x="27.1" y="647.9" font-family='"Liberation Sans", Arial, sans-serif' font-size="11" font-weight="normal" fill="#222" textLength="11.7" lengthAdjust="spacingAndGlyphs" stroke="#222" stroke-width="0.2">25</text>
<text x="58.9" y="647.9" font-family='"Liberation Sans", Arial, sans-serif' font-size="11" font-weight="normal" fill="#222" textLength="11.7" lengthAdjust="spacingAndGlyphs" stroke="#222" stroke-width="0.2">26</text>
<text x="90.7" y="647.9" font-family='"Liberation Sans", Arial, sans-serif' font-size="11" font-weight="normal" fill="#222" textLength="11.7" lengthAdjust="spacingAndGlyphs" stroke="#222" stroke-width="0.2">27</text>
<text x="122.2" y="647.9" font-family='"Liberation Sans", Arial, sans-serif' font-size="11" font-weight="normal" fill="#222" textLength="5.6" lengthAdjust="spacingAndGlyphs" stroke="#222" stroke-width="0.2">2</text>
<text x="154.0" y="647.9" font-family='"Liberation Sans", Arial, sans-serif' font-size="11" font-weight="normal" fill="#222" textLength="5.6" lengthAdjust="spacingAndGlyphs" stroke="#222" stroke-width="0.2">3</text>
<text x="185.7" y="647.9" font-family='"Liberation Sans", Arial, sans-serif' font-size="11" font-weight="normal" fill="#222" textLength="5.6" lengthAdjust="spacingAndGlyphs" stroke="#222" stroke-width="0.2">4</text>
<text x="217.5" y="647.9" font-family='"Liberation Sans", Arial, sans-serif' font-size="11" font-weight="normal" fill="#222" textLength="5.6" lengthAdjust="spacingAndGlyphs" stroke="#222" stroke-width="0.2">5</text>
<text x="249.3" y="647.9" font-family='"Liberation Sans", Arial, sans-serif' font-size="11" font-weight="normal" fill="#222" textLength="5.6" lengthAdjust="spacingAndGlyphs" stroke="#222" stroke-width="0.2">6</text>
<text x="281.1" y="647.9" font-family='"Liberation Sans", Arial, sans-serif' font-size="11" font-weight="normal" fill="#222" textLength="5.6" lengthAdjust="spacingAndGlyphs" stroke="#222" stroke-width="0.2">9</text>
<text x="313.1" y="647.9" font-family='"Liberation Sans", Arial, sans-serif' font-size="11" font-weight="normal" fill="#222" textLength="11.7" lengthAdjust="spacingAndGlyphs" stroke="#222" stroke-width="0.2">10</text>
<text x="344.9" y="647.9" font-family='"Liberation Sans", Arial, sans-serif' font-size="11" font-weight="normal" fill="#222" textLength="11.7" lengthAdjust="spacingAndGlyphs" stroke="#222" stroke-width="0.2">11</text>
<text x="376.6" y="647.9" font-family='"Liberation Sans", Arial, sans-serif' font-size="11" font-weight="normal" fill="#222" textLength="11.7" lengthAdjust="spacingAndGlyphs" stroke="#222" stroke-width="0.2">12</text>
<text x="408.4" y="647.9" font-family='"Liberation Sans", Arial, sans-serif' font-size="11" font-weight="normal" fill="#222" textLength="11.7" lengthAdjust="spacingAndGlyphs" stroke="#222" stroke-width="0.2">13</text>
<text x="440.2" y="647.9" font-family='"Liberation Sans", Arial, sans-serif' font-size="11" font-weight="normal" fill="#222" textLength="11.7" lengthAdjust="spacingAndGlyphs" stroke="#222" stroke-width="0.2">16</text>
<text x="472.0" y="647.9" font-family='"Liberation Sans", Arial, sans-serif' font-size="11" font-weight="normal" fill="#222" textLength="11.7" lengthAdjust="spacingAndGlyphs" stroke="#222" stroke-width="0.2">17</text>
<text x="503.7" y="647.9" font-family='"Liberation Sans", Arial, sans-serif' font-size="11" font-weight="normal" fill="#222" textLength="11.7" lengthAdjust="spacingAndGlyphs" stroke="#222" stroke-width="0.2">18</text>
<text x="535.5" y="647.9" font-family='"Liberation Sans", Arial, sans-serif' font-size="11" font-weight="normal" fill="#222" textLength="11.7" lengthAdjust="spacingAndGlyphs" stroke="#222" stroke-width="0.2">19</text>
<text x="567.3" y="647.9" font-family='"Liberation Sans", Arial, sans-serif' font-size="11" font-weight="normal" fill="#222" textLength="11.7" lengthAdjust="spacingAndGlyphs" stroke="#222" stroke-width="0.2">20</text>
<text x="599.0" y="647.9" font-family='"Liberation Sans", Arial, sans-serif' font-size="11" font-weight="normal" fill="#222" textLength="11.7" lengthAdjust="spacingAndGlyphs" stroke="#222" stroke-width="0.2">23</text>
<text x="630.8" y="647.9" font-family='"Liberation Sans", Arial, sans-serif' font-size="11" font-weight="normal" fill="#222" textLength="11.7" lengthAdjust="spacingAndGlyphs" stroke="#222" stroke-width="0.2">24</text>
<text x="662.6" y="647.9" font-family='"Liberation Sans", Arial, sans-serif' font-size="11" font-weight="normal" fill="#222" textLength="11.7" lengthAdjust="spacingAndGlyphs" stroke="#222" stroke-width="0.2">25</text>
<text x="694.4" y="647.9" font-family='"Liberation Sans", Arial, sans-serif' font-size="11" font-weight="normal" fill="#222" textLength="11.7" lengthAdjust="spacingAndGlyphs" stroke="#222" stroke-width="0.2">26</text>
<text x="726.1" y="647.9" font-family='"Liberation Sans", Arial, sans-serif' font-size="11" font-weight="normal" fill="#222" textLength="11.7" lengthAdjust="spacingAndGlyphs" stroke="#222" stroke-width="0.2">27</text>
<text x="757.9" y="647.9" font-family='"Liberation Sans", Arial, sans-serif' font-size="11" font-weight="normal" fill="#222" textLength="11.7" lengthAdjust="spacingAndGlyphs" stroke="#222" stroke-width="0.2">30</text>
<text x="789.7" y="647.9" font-family='"Liberation Sans", Arial, sans-serif' font-size="11" font-weight="normal" fill="#222" textLength="11.7" lengthAdjust="spacingAndGlyphs" stroke="#222" stroke-width="0.2">31</text>
<text x="821.2" y="647.9" font-family='"Liberation Sans", Arial, sans-serif' font-size="11" font-weight="normal" fill="#222" textLength="5.6" lengthAdjust="spacingAndGlyphs" stroke="#222" stroke-width="0.2">1</text>
<text x="853.0" y="647.9" font-family='"Liberation Sans", Arial, sans-serif' font-size="11" font-weight="normal" fill="#222" textLength="5.6" lengthAdjust="spacingAndGlyphs" stroke="#222" stroke-width="0.2">2</text>
<text x="884.7" y="647.9" font-family='"Liberation Sans", Arial, sans-serif' font-size="11" font-weight="normal" fill="#222" textLength="5.6" lengthAdjust="spacingAndGlyphs" stroke="#222" stroke-width="0.2">7</text>
<text x="916.5" y="647.9" font-family='"Liberation Sans", Arial, sans-serif' font-size="11" font-weight="normal" fill="#222" textLength="5.6" lengthAdjust="spacingAndGlyphs" stroke="#222" stroke-width="0.2">8</text>
<text x="948.3" y="647.9" font-family='"Liberation Sans", Arial, sans-serif' font-size="11" font-weight="normal" fill="#222" textLength="5.6" lengthAdjust="spacingAndGlyphs" stroke="#222" stroke-width="0.2">9</text>
<text x="980.3" y="647.9" font-family='"Liberation Sans", Arial, sans-serif' font-size="11" font-weight="normal" fill="#222" textLength="11.7" lengthAdjust="spacingAndGlyphs" stroke="#222" stroke-width="0.2">10</text>
<text x="1012.1" y="647.9" font-family='"Liberation Sans", Arial, sans-serif' font-size="11" font-weight="normal" fill="#222" textLength="11.7" lengthAdjust="spacingAndGlyphs" stroke="#222" stroke-width="0.2">13</text>
<text x="1043.9" y="647.9" font-family='"Liberation Sans", Arial, sans-serif' font-size="11" font-weight="normal" fill="#222" textLength="11.7" lengthAdjust="spacingAndGlyphs" stroke="#222" stroke-width="0.2">14</text>
<text x="1075.6" y="647.9" font-family='"Liberation Sans", Arial, sans-serif' font-size="11" font-weight="normal" fill="#222" textLength="11.7" lengthAdjust="spacingAndGlyphs" stroke="#222" stroke-width="0.2">15</text>
<text x="1107.4" y="647.9" font-family='"Liberation Sans", Arial, sans-serif' font-size="11" font-weight="normal" fill="#222" textLength="11.7" lengthAdjust="spacingAndGlyphs" stroke="#222" stroke-width="0.2">16</text>
<text x="1139.2" y="647.9" font-family='"Liberation Sans", Arial, sans-serif' font-size="11" font-weight="normal" fill="#222" textLength="11.7" lengthAdjust="spacingAndGlyphs" stroke="#222" stroke-width="0.2">17</text>
<text x="1170.9" y="647.9" font-family='"Liberation Sans", Arial, sans-serif' font-size="11" font-weight="normal" fill="#222" textLength="11.7" lengthAdjust="spacingAndGlyphs" stroke="#222" stroke-width="0.2">20</text>
<text x="1202.7" y="647.9" font-family='"Liberation Sans", Arial, sans-serif' font-size="11" font-weight="normal" fill="#222" textLength="11.7" lengthAdjust="spacingAndGlyphs" stroke="#222" stroke-width="0.2">21</text>
<text x="1234.5" y="647.9" font-family='"Liberation Sans", Arial, sans-serif' font-size="11" font-weight="normal" fill="#222" textLength="11.7" lengthAdjust="spacingAndGlyphs" stroke="#222" stroke-width="0.2">22</text>
<text x="1266.3" y="647.9" font-family='"Liberation Sans", Arial, sans-serif' font-size="11" font-weight="normal" fill="#222" textLength="11.7" lengthAdjust="spacingAndGlyphs" stroke="#222" stroke-width="0.2">23</text>
<text x="1298.0" y="647.9" font-family='"Liberation Sans", Arial, sans-serif' font-size="11" font-weight="normal" fill="#222" textLength="11.7" lengthAdjust="spacingAndGlyphs" stroke="#222" stroke-width="0.2">24</text>
<text x="1329.8" y="647.9" font-family='"Liberation Sans", Arial, sans-serif' font-size="11" font-weight="normal" fill="#222" textLength="11.7" lengthAdjust="spacingAndGlyphs" stroke="#222" stroke-width="0.2">27</text>
<text x="1361.6" y="647.9" font-family='"Liberation Sans", Arial, sans-serif' font-size="11" font-weight="normal" fill="#222" textLength="11.7" lengthAdjust="spacingAndGlyphs" stroke="#222" stroke-width="0.2">28</text>
<text x="1393.3" y="647.9" font-family='"Liberation Sans", Arial, sans-serif' font-size="11" font-weight="normal" fill="#222" textLength="11.7" lengthAdjust="spacingAndGlyphs" stroke="#222" stroke-width="0.2">29</text>
<text x="1425.1" y="647.9" font-family='"Liberation Sans", Arial, sans-serif' font-size="11" font-weight="normal" fill="#222" textLength="11.7" lengthAdjust="spacingAndGlyphs" stroke="#222" stroke-width="0.2">30</text>
<text x="1456.6" y="647.9" font-family='"Liberation Sans", Arial, sans-serif' font-size="11" font-weight="normal" fill="#222" textLength="5.6" lengthAdjust="spacingAndGlyphs" stroke="#222" stroke-width="0.2">4</text>
<text x="1488.4" y="647.9" font-family='"Liberation Sans", Arial, sans-serif' font-size="11" font-weight="normal" fill="#222" textLength="5.6" lengthAdjust="spacingAndGlyphs" stroke="#222" stroke-width="0.2">5</text>
</svg>
<div id="footer">
<div class="btn confg" style="left:2px;top:856px;width:60px;height:32px"></div>
<svg class="ov" style="top:853px" width="1596" height="40" viewBox="0 853 1596 40">
<text x="10.3" y="876.1" font-family='"Liberation Sans", Arial, sans-serif' font-size="13" font-weight="bold" fill="#fff" textLength="43.6" lengthAdjust="spacingAndGlyphs" stroke="#fff" stroke-width="0.3">CONFG.</text>
<text x="80.8" y="874.7" font-family='"Liberation Sans", Arial, sans-serif' font-size="12.5" font-weight="bold" fill="#111" textLength="11.3" lengthAdjust="spacingAndGlyphs">BI</text>
<path d="M113.8 869.0H120.9L117.3 873.0Z" fill="#666"/>
<text x="144.7" y="877.0" font-family='"Liberation Sans", Arial, sans-serif' font-size="14" font-weight="normal" fill="#111" textLength="15.7" lengthAdjust="spacingAndGlyphs" stroke="#111" stroke-width="0.3">All</text>
<text x="172.9" y="877.0" font-family='"Liberation Sans", Arial, sans-serif' font-size="14" font-weight="normal" fill="#111" textLength="22.6" lengthAdjust="spacingAndGlyphs" stroke="#111" stroke-width="0.3">10A</text>
<text x="208.5" y="877.0" font-family='"Liberation Sans", Arial, sans-serif' font-size="14" font-weight="normal" fill="#111" textLength="16.6" lengthAdjust="spacingAndGlyphs" stroke="#111" stroke-width="0.3">5A</text>
<text x="240.1" y="877.0" font-family='"Liberation Sans", Arial, sans-serif' font-size="14" font-weight="normal" fill="#111" textLength="16.9" lengthAdjust="spacingAndGlyphs" stroke="#111" stroke-width="0.3">2A</text>
<text x="273.3" y="877.0" font-family='"Liberation Sans", Arial, sans-serif' font-size="14" font-weight="normal" fill="#111" textLength="14.4" lengthAdjust="spacingAndGlyphs" stroke="#111" stroke-width="0.3">1A</text>
<text x="308.0" y="877.0" font-family='"Liberation Sans", Arial, sans-serif' font-size="14" font-weight="normal" fill="#111" textLength="9.2" lengthAdjust="spacingAndGlyphs" stroke="#111" stroke-width="0.3">A</text>
<text x="334.3" y="877.0" font-family='"Liberation Sans", Arial, sans-serif' font-size="14" font-weight="normal" fill="#111" textLength="19.6" lengthAdjust="spacingAndGlyphs" stroke="#111" stroke-width="0.3">6M</text>
<text x="364.2" y="877.0" font-family='"Liberation Sans", Arial, sans-serif' font-size="14" font-weight="normal" fill="#111" textLength="24.4" lengthAdjust="spacingAndGlyphs" stroke="#111" stroke-width="0.3">60D</text>
<text x="396.1" y="877.0" font-family='"Liberation Sans", Arial, sans-serif' font-size="14" font-weight="normal" fill="#111" textLength="24.6" lengthAdjust="spacingAndGlyphs" stroke="#111" stroke-width="0.3">30D</text>
<text x="429.1" y="877.0" font-family='"Liberation Sans", Arial, sans-serif' font-size="14" font-weight="normal" fill="#111" textLength="22.3" lengthAdjust="spacingAndGlyphs" stroke="#111" stroke-width="0.3">15D</text>
<text x="463.9" y="877.0" font-family='"Liberation Sans", Arial, sans-serif' font-size="14" font-weight="normal" fill="#111" textLength="16.9" lengthAdjust="spacingAndGlyphs" stroke="#111" stroke-width="0.3">5D</text>
<text x="495.9" y="877.0" font-family='"Liberation Sans", Arial, sans-serif' font-size="14" font-weight="normal" fill="#111" textLength="16.9" lengthAdjust="spacingAndGlyphs" stroke="#111" stroke-width="0.3">2D</text>
<text x="529.1" y="877.0" font-family='"Liberation Sans", Arial, sans-serif' font-size="14" font-weight="normal" fill="#111" textLength="14.8" lengthAdjust="spacingAndGlyphs" stroke="#111" stroke-width="0.3">1D</text>
<text x="1517.3" y="878.9" font-family='"Liberation Sans", Arial, sans-serif' font-size="17.2" font-weight="bold" fill="#111" textLength="65.3" lengthAdjust="spacingAndGlyphs">190.033</text>
</svg>
</div>
</body></html>
